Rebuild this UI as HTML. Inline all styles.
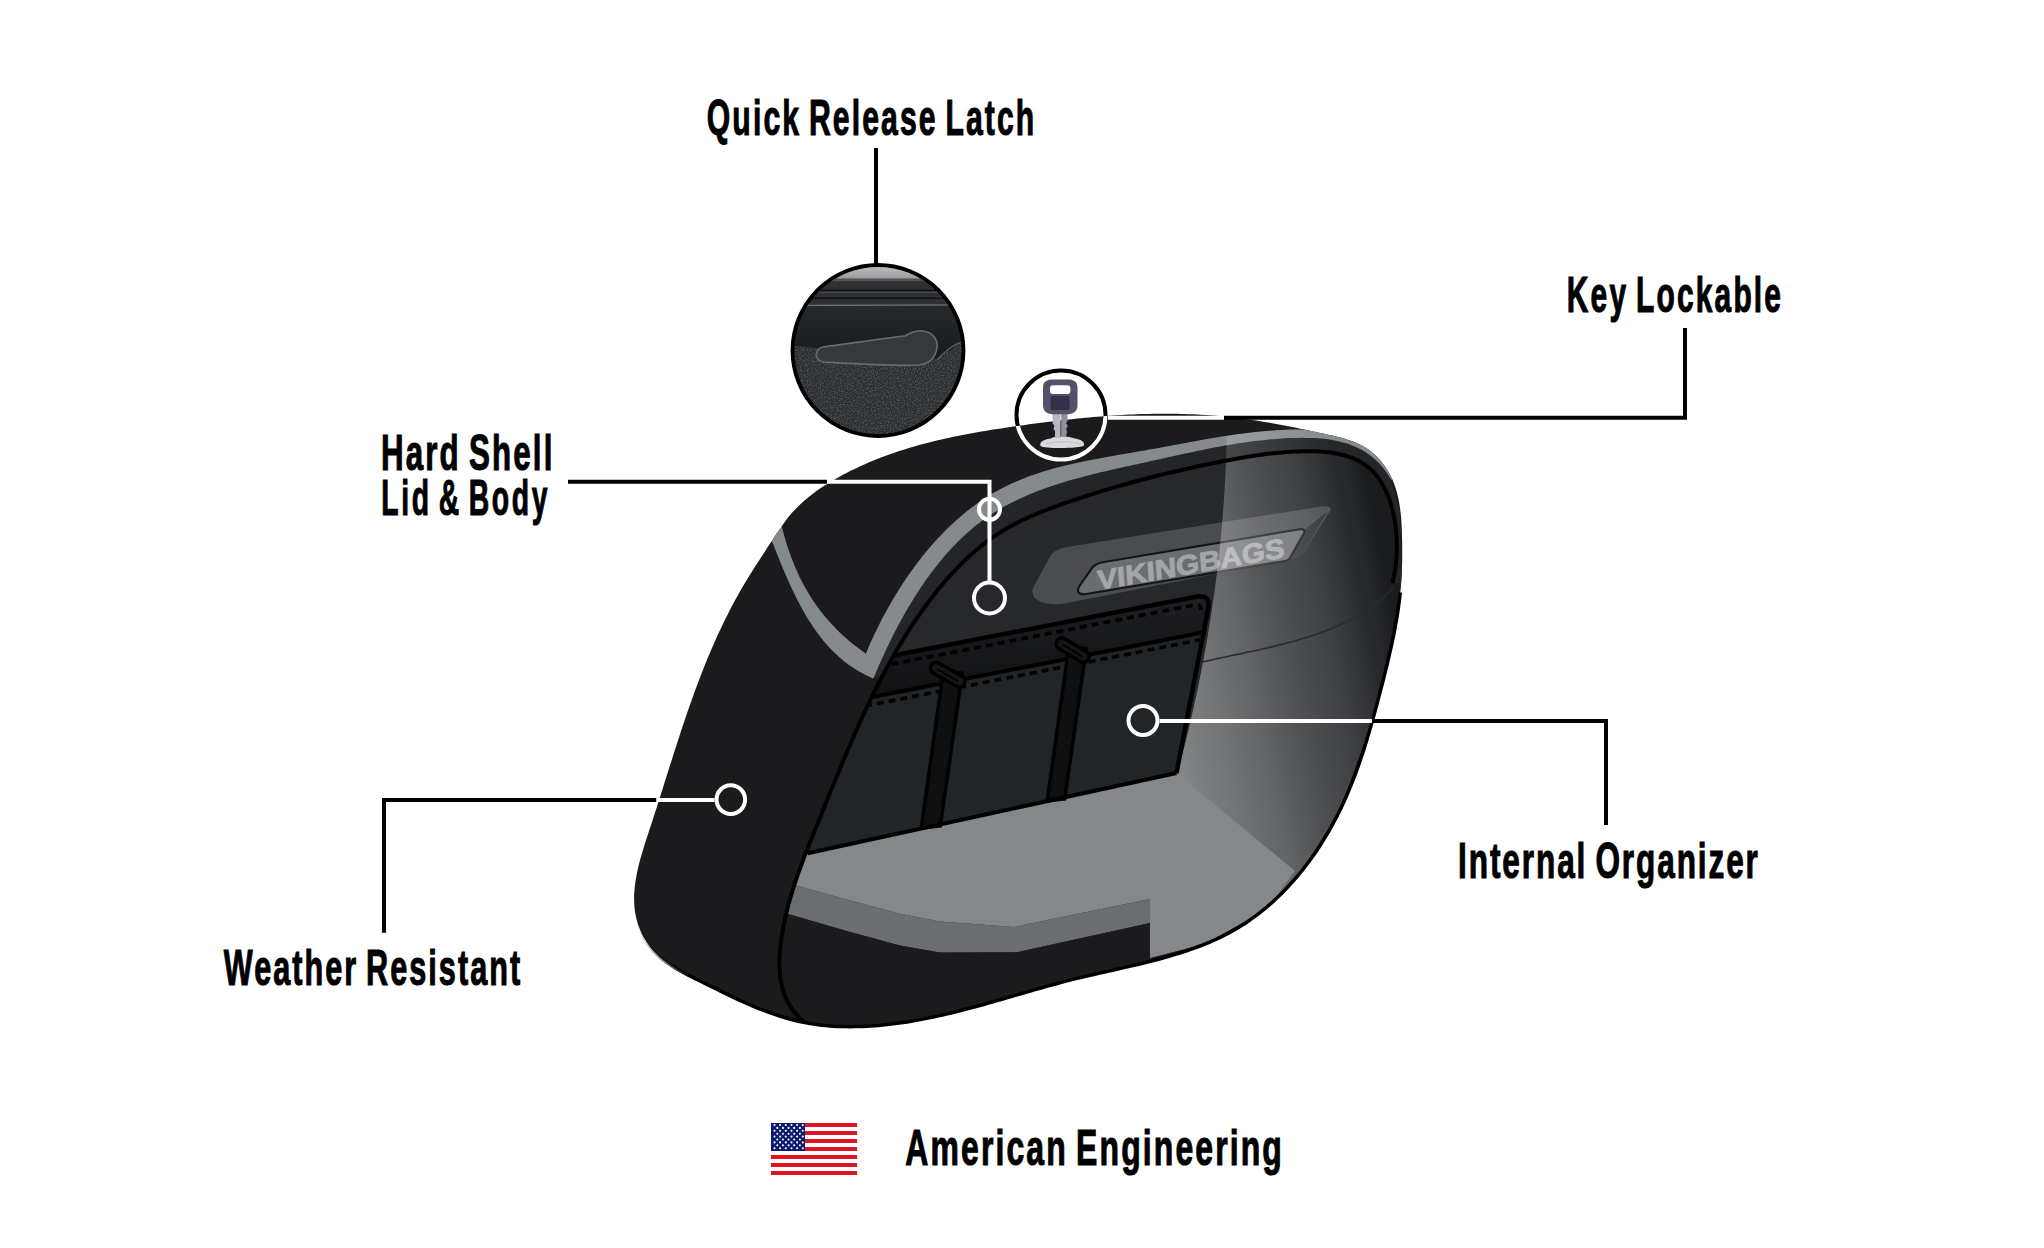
<!DOCTYPE html>
<html><head><meta charset="utf-8"><style>
html,body{margin:0;padding:0;background:#fff;}
body{width:2044px;height:1248px;overflow:hidden;position:relative;}
svg{position:absolute;left:0;top:0;}
</style></head><body>
<svg width="2044" height="1248" viewBox="0 0 2044 1248">

<defs>
  <clipPath id="clipTex"><path d="M790,345.5 L938,359 C950,350 960,342 970,341 L970,450 L790,450 Z"/></clipPath>
  <clipPath id="clipOuter"><path d="M771.8,540.9 L774.0,537.6 L776.2,534.2 L778.4,530.9 L780.7,527.7 L782.9,524.4 L785.3,521.3 L787.6,518.1 L790.1,515.1 L792.7,512.1 L795.3,509.2 L798.1,506.4 L800.9,503.7 L803.9,501.0 L806.9,498.4 L810.0,495.9 L813.2,493.5 L816.4,491.1 L819.7,488.8 L823.1,486.6 L826.5,484.4 L829.9,482.3 L833.4,480.2 L836.8,478.2 L840.3,476.2 L843.9,474.3 L847.4,472.5 L851.0,470.6 L854.6,468.9 L858.2,467.2 L861.8,465.5 L865.5,463.9 L869.1,462.3 L872.8,460.7 L876.5,459.3 L880.2,457.8 L883.9,456.4 L887.7,455.0 L891.5,453.7 L895.2,452.4 L899.0,451.1 L902.8,449.9 L906.7,448.7 L910.5,447.5 L914.3,446.4 L918.2,445.3 L922.1,444.3 L926.0,443.3 L929.9,442.3 L933.8,441.3 L937.7,440.3 L941.6,439.4 L945.5,438.5 L949.5,437.7 L953.4,436.8 L957.4,436.0 L961.3,435.2 L965.3,434.5 L969.3,433.7 L973.2,433.0 L977.2,432.3 L981.2,431.6 L985.2,430.9 L989.2,430.2 L993.2,429.6 L997.2,429.0 L1001.2,428.4 L1005.2,427.7 L1009.2,427.2 L1013.2,426.6 L1017.2,426.0 L1021.2,425.4 L1025.2,424.9 L1029.2,424.3 L1033.2,423.8 L1037.2,423.3 L1041.2,422.7 L1045.2,422.2 L1049.2,421.7 L1053.2,421.2 L1057.2,420.8 L1061.2,420.3 L1065.2,419.8 L1069.2,419.4 L1073.2,419.0 L1077.2,418.6 L1081.2,418.2 L1085.2,417.8 L1089.2,417.4 L1093.2,417.0 L1097.2,416.7 L1101.1,416.4 L1105.1,416.1 L1109.1,415.8 L1113.1,415.5 L1117.1,415.3 L1121.1,415.0 L1125.1,414.8 L1129.1,414.6 L1133.0,414.4 L1137.0,414.3 L1141.0,414.1 L1145.0,414.0 L1149.0,413.9 L1153.0,413.8 L1156.9,413.8 L1160.9,413.7 L1164.9,413.7 L1168.9,413.7 L1172.9,413.8 L1176.9,413.8 L1180.8,413.9 L1184.8,414.0 L1188.8,414.2 L1192.8,414.3 L1196.7,414.5 L1200.7,414.7 L1204.7,414.9 L1208.7,415.2 L1212.7,415.5 L1216.6,415.8 L1220.6,416.2 L1224.6,416.6 L1228.6,417.0 L1232.5,417.4 L1236.5,417.9 L1240.5,418.4 L1244.5,418.9 L1248.5,419.4 L1252.4,420.0 L1256.4,420.6 L1260.4,421.2 L1264.4,421.9 L1268.3,422.6 L1272.3,423.3 L1276.3,424.0 L1280.3,424.7 L1284.3,425.5 L1288.3,426.3 L1292.2,427.0 L1296.2,427.8 L1300.2,428.7 L1304.2,429.5 L1308.2,430.3 L1312.2,431.2 L1316.2,432.0 L1320.2,432.9 L1324.2,433.8 L1328.2,434.7 L1332.2,435.6 L1336.2,436.5 L1340.1,437.5 L1344.0,438.6 L1347.8,439.8 L1351.6,441.1 L1355.2,442.5 L1358.8,444.1 L1362.3,445.8 L1365.6,447.7 L1368.8,449.8 L1371.9,452.2 L1374.8,454.7 L1377.5,457.3 L1380.2,460.2 L1382.6,463.2 L1384.9,466.3 L1387.1,469.6 L1389.1,473.0 L1390.9,476.5 L1392.6,480.1 L1394.1,483.8 L1395.4,487.6 L1396.6,491.4 L1397.6,495.4 L1398.5,499.3 L1399.3,503.3 L1399.9,507.4 L1400.5,511.4 L1400.9,515.5 L1401.3,519.7 L1401.5,523.8 L1401.7,527.9 L1401.9,532.1 L1402.0,536.2 L1402.1,540.3 L1402.2,544.4 L1402.2,548.5 L1402.2,552.6 L1402.2,556.6 L1402.2,560.6 L1402.1,564.7 L1401.9,568.7 L1401.8,572.6 L1401.6,576.6 L1401.3,580.6 L1401.0,584.6 L1400.7,588.6 L1400.3,592.5 L1399.8,596.5 L1399.4,600.4 L1398.8,604.4 L1398.3,608.3 L1397.7,612.2 L1397.1,616.2 L1396.4,620.1 L1395.7,624.0 L1395.0,628.0 L1394.3,631.9 L1393.5,635.8 L1392.7,639.7 L1391.9,643.6 L1391.0,647.5 L1390.1,651.4 L1389.2,655.3 L1388.3,659.2 L1387.4,663.1 L1386.5,667.0 L1385.5,670.9 L1384.5,674.8 L1383.6,678.7 L1382.6,682.6 L1381.6,686.5 L1380.5,690.3 L1379.5,694.2 L1378.5,698.1 L1377.5,702.0 L1376.5,705.9 L1375.4,709.8 L1374.4,713.6 L1373.3,717.5 L1372.2,721.4 L1371.1,725.3 L1370.0,729.1 L1368.9,733.0 L1367.7,736.8 L1366.6,740.7 L1365.4,744.5 L1364.2,748.4 L1363.0,752.2 L1361.7,756.0 L1360.4,759.8 L1359.1,763.6 L1357.8,767.4 L1356.4,771.2 L1355.0,774.9 L1353.6,778.7 L1352.1,782.4 L1350.6,786.2 L1349.1,789.9 L1347.5,793.6 L1345.9,797.3 L1344.3,801.0 L1342.6,804.6 L1340.9,808.3 L1339.1,811.9 L1337.3,815.5 L1335.4,819.1 L1333.5,822.7 L1331.6,826.2 L1329.6,829.8 L1327.6,833.3 L1325.5,836.7 L1323.4,840.2 L1321.3,843.6 L1319.1,847.0 L1316.8,850.4 L1314.6,853.7 L1312.2,857.0 L1309.9,860.3 L1307.5,863.5 L1305.0,866.7 L1302.6,869.9 L1300.0,873.0 L1297.5,876.1 L1294.9,879.2 L1292.2,882.2 L1289.5,885.1 L1286.8,888.1 L1284.1,890.9 L1281.3,893.8 L1278.4,896.5 L1275.5,899.3 L1272.6,902.0 L1269.6,904.6 L1266.6,907.2 L1263.6,909.7 L1260.5,912.2 L1257.4,914.6 L1254.2,916.9 L1251.1,919.2 L1247.8,921.5 L1244.5,923.7 L1241.2,925.8 L1237.9,927.8 L1234.5,929.8 L1231.1,931.8 L1227.6,933.6 L1224.1,935.4 L1220.6,937.2 L1217.0,938.9 L1213.4,940.5 L1209.8,942.1 L1206.1,943.6 L1202.4,945.1 L1198.7,946.5 L1195.0,947.9 L1191.2,949.2 L1187.4,950.6 L1183.6,951.8 L1179.8,953.0 L1175.9,954.2 L1172.1,955.4 L1168.2,956.5 L1164.3,957.6 L1160.4,958.7 L1156.4,959.7 L1152.5,960.8 L1148.5,961.8 L1144.6,962.8 L1140.6,963.7 L1136.6,964.7 L1132.6,965.6 L1128.6,966.5 L1124.7,967.4 L1120.7,968.4 L1116.7,969.3 L1112.7,970.2 L1108.7,971.1 L1104.7,972.0 L1100.7,972.9 L1096.7,973.8 L1092.7,974.7 L1088.7,975.6 L1084.7,976.5 L1080.8,977.5 L1076.8,978.4 L1072.9,979.4 L1069.0,980.4 L1065.1,981.4 L1061.2,982.4 L1057.3,983.5 L1053.4,984.5 L1049.5,985.6 L1045.7,986.6 L1041.8,987.7 L1038.0,988.8 L1034.1,989.9 L1030.3,991.0 L1026.5,992.1 L1022.6,993.2 L1018.8,994.3 L1015.0,995.4 L1011.2,996.5 L1007.4,997.6 L1003.6,998.7 L999.8,999.8 L996.0,1000.9 L992.1,1002.0 L988.3,1003.1 L984.5,1004.2 L980.7,1005.2 L976.9,1006.3 L973.1,1007.3 L969.2,1008.3 L965.4,1009.3 L961.6,1010.3 L957.7,1011.3 L953.9,1012.3 L950.0,1013.2 L946.2,1014.1 L942.3,1015.0 L938.4,1015.9 L934.5,1016.7 L930.6,1017.6 L926.7,1018.4 L922.8,1019.1 L918.9,1019.9 L914.9,1020.6 L910.9,1021.2 L907.0,1021.9 L903.0,1022.5 L899.0,1023.1 L894.9,1023.6 L890.9,1024.1 L886.8,1024.6 L882.8,1025.0 L878.7,1025.4 L874.6,1025.7 L870.6,1026.0 L866.5,1026.2 L862.4,1026.4 L858.3,1026.6 L854.2,1026.6 L850.1,1026.7 L846.1,1026.6 L842.0,1026.6 L838.0,1026.4 L833.9,1026.2 L829.9,1025.9 L825.9,1025.6 L821.9,1025.2 L817.9,1024.7 L813.9,1024.1 L810.0,1023.5 L806.1,1022.8 L802.2,1022.0 L798.3,1021.2 L794.5,1020.3 L790.7,1019.3 L786.9,1018.2 L783.1,1017.1 L779.4,1016.0 L775.6,1014.7 L771.9,1013.4 L768.2,1012.1 L764.5,1010.7 L760.8,1009.3 L757.1,1007.8 L753.4,1006.3 L749.7,1004.7 L746.1,1003.1 L742.4,1001.5 L738.8,999.8 L735.1,998.1 L731.5,996.4 L727.8,994.6 L724.2,992.9 L720.5,991.1 L716.8,989.3 L713.2,987.5 L709.5,985.7 L705.8,983.9 L702.1,982.0 L698.4,980.2 L694.7,978.4 L690.9,976.5 L687.3,974.6 L683.6,972.7 L680.0,970.7 L676.4,968.7 L672.9,966.6 L669.5,964.4 L666.2,962.1 L663.0,959.7 L660.0,957.2 L657.1,954.6 L654.3,951.8 L651.7,948.9 L649.2,945.8 L647.0,942.6 L644.9,939.3 L642.9,935.9 L641.2,932.4 L639.7,928.8 L638.3,925.2 L637.1,921.5 L636.2,917.8 L635.4,914.0 L634.8,910.3 L634.4,906.5 L634.2,902.7 L634.1,898.9 L634.1,895.0 L634.4,891.2 L634.7,887.3 L635.2,883.4 L635.8,879.5 L636.5,875.6 L637.2,871.7 L638.1,867.7 L639.1,863.8 L640.1,859.8 L641.2,855.9 L642.4,851.9 L643.6,848.0 L644.8,844.0 L646.1,840.0 L647.4,836.1 L648.7,832.1 L650.0,828.1 L651.3,824.2 L652.6,820.2 L653.8,816.3 L655.1,812.4 L656.4,808.4 L657.6,804.5 L658.9,800.6 L660.1,796.7 L661.4,792.8 L662.6,788.9 L663.8,785.0 L665.0,781.1 L666.3,777.2 L667.5,773.3 L668.7,769.5 L669.9,765.6 L671.2,761.7 L672.4,757.9 L673.6,754.1 L674.8,750.2 L676.1,746.4 L677.3,742.6 L678.6,738.7 L679.8,734.9 L681.0,731.1 L682.3,727.3 L683.6,723.5 L684.8,719.8 L686.1,716.0 L687.4,712.2 L688.7,708.5 L690.0,704.7 L691.4,701.0 L692.7,697.2 L694.0,693.5 L695.4,689.8 L696.8,686.0 L698.2,682.3 L699.6,678.6 L701.0,674.9 L702.4,671.3 L703.9,667.6 L705.3,663.9 L706.8,660.2 L708.3,656.6 L709.9,652.9 L711.4,649.3 L713.0,645.7 L714.6,642.1 L716.2,638.4 L717.8,634.8 L719.5,631.2 L721.2,627.7 L722.9,624.1 L724.6,620.5 L726.4,616.9 L728.2,613.4 L730.0,609.8 L731.8,606.3 L733.7,602.8 L735.6,599.3 L737.6,595.8 L739.5,592.3 L741.5,588.8 L743.6,585.3 L745.6,581.8 L747.7,578.4 L749.8,574.9 L752.0,571.5 L754.2,568.0 L756.4,564.6 L758.6,561.2 L760.8,557.8 L763.0,554.4 L765.2,551.0 L767.4,547.6 L769.6,544.3 L771.8,540.9Z"/></clipPath>
  <clipPath id="clipOpen"><path d="M1392.5,583.2 L1393.3,579.5 L1394.1,575.8 L1394.8,571.9 L1395.3,568.0 L1395.8,564.0 L1396.2,559.9 L1396.5,555.7 L1396.7,551.6 L1396.8,547.3 L1396.7,543.1 L1396.6,538.8 L1396.4,534.5 L1396.0,530.3 L1395.5,526.0 L1394.9,521.8 L1394.2,517.6 L1393.4,513.5 L1392.4,509.4 L1391.3,505.4 L1390.1,501.5 L1388.8,497.7 L1387.3,493.9 L1385.7,490.3 L1383.9,486.8 L1382.0,483.4 L1380.0,480.2 L1377.8,477.1 L1375.4,474.2 L1372.9,471.5 L1370.3,468.9 L1367.5,466.5 L1364.5,464.4 L1361.4,462.4 L1358.2,460.6 L1354.8,459.0 L1351.3,457.6 L1347.7,456.4 L1344.0,455.3 L1340.2,454.3 L1336.3,453.5 L1332.4,452.8 L1328.4,452.3 L1324.3,451.9 L1320.1,451.6 L1316.0,451.3 L1311.8,451.2 L1307.6,451.2 L1303.3,451.2 L1299.1,451.4 L1294.9,451.5 L1290.7,451.8 L1286.5,452.0 L1282.3,452.4 L1278.2,452.8 L1274.0,453.2 L1269.9,453.6 L1265.8,454.1 L1261.7,454.7 L1257.7,455.2 L1253.6,455.8 L1249.6,456.5 L1245.5,457.1 L1241.5,457.8 L1237.5,458.5 L1233.5,459.2 L1229.6,460.0 L1225.6,460.7 L1221.6,461.5 L1217.7,462.3 L1213.7,463.1 L1209.8,463.9 L1205.8,464.7 L1201.9,465.5 L1198.0,466.3 L1194.1,467.2 L1190.2,468.0 L1186.3,468.9 L1182.4,469.8 L1178.5,470.7 L1174.6,471.6 L1170.7,472.5 L1166.9,473.4 L1163.0,474.4 L1159.1,475.3 L1155.3,476.3 L1151.4,477.2 L1147.6,478.2 L1143.7,479.2 L1139.9,480.3 L1136.0,481.3 L1132.2,482.3 L1128.3,483.4 L1124.5,484.5 L1120.6,485.5 L1116.8,486.6 L1113.0,487.8 L1109.1,488.9 L1105.3,490.0 L1101.5,491.2 L1097.6,492.4 L1093.8,493.6 L1090.0,494.8 L1086.1,496.0 L1082.3,497.3 L1078.5,498.5 L1074.6,499.8 L1070.8,501.1 L1066.9,502.4 L1063.1,503.7 L1059.3,505.1 L1055.4,506.5 L1051.6,507.9 L1047.8,509.3 L1044.0,510.8 L1040.2,512.3 L1036.5,513.9 L1032.7,515.5 L1029.0,517.1 L1025.3,518.8 L1021.7,520.5 L1018.1,522.3 L1014.5,524.2 L1010.9,526.1 L1007.4,528.0 L1004.0,530.1 L1000.5,532.2 L997.2,534.3 L993.8,536.6 L990.5,538.9 L987.3,541.2 L984.1,543.6 L981.0,546.1 L977.9,548.7 L974.8,551.3 L971.8,553.9 L968.8,556.6 L965.9,559.3 L963.0,562.1 L960.1,565.0 L957.3,567.8 L954.5,570.8 L951.8,573.7 L949.1,576.7 L946.4,579.7 L943.8,582.8 L941.2,585.9 L938.6,589.0 L936.1,592.2 L933.6,595.3 L931.1,598.5 L928.7,601.7 L926.3,605.0 L923.9,608.2 L921.6,611.5 L919.3,614.8 L917.0,618.1 L914.8,621.4 L912.5,624.7 L910.3,628.1 L908.2,631.4 L906.0,634.8 L903.9,638.2 L901.8,641.6 L899.7,645.1 L897.7,648.5 L895.7,651.9 L893.7,655.4 L891.7,658.9 L889.8,662.4 L887.8,665.9 L885.9,669.4 L884.0,673.0 L882.2,676.5 L880.3,680.1 L878.5,683.6 L876.7,687.2 L874.9,690.8 L873.1,694.4 L871.3,698.0 L869.6,701.6 L867.8,705.2 L866.1,708.9 L864.4,712.5 L862.7,716.2 L861.1,719.8 L859.4,723.5 L857.7,727.2 L856.1,730.9 L854.5,734.5 L852.9,738.2 L851.3,741.9 L849.7,745.6 L848.1,749.3 L846.5,753.1 L844.9,756.8 L843.4,760.5 L841.8,764.2 L840.2,768.0 L838.7,771.7 L837.2,775.4 L835.6,779.2 L834.1,782.9 L832.6,786.7 L831.0,790.4 L829.5,794.2 L828.0,797.9 L826.5,801.7 L824.9,805.4 L823.4,809.2 L821.9,812.9 L820.4,816.7 L818.9,820.4 L817.3,824.2 L815.8,827.9 L814.3,831.6 L812.8,835.4 L811.3,839.1 L809.8,842.9 L808.3,846.7 L806.8,850.4 L805.3,854.2 L803.9,857.9 L802.5,861.7 L801.1,865.5 L799.7,869.3 L798.3,873.0 L797.0,876.8 L795.7,880.6 L794.5,884.4 L793.2,888.3 L792.1,892.1 L790.9,895.9 L789.8,899.8 L788.7,903.6 L787.7,907.5 L786.7,911.4 L785.8,915.3 L784.9,919.2 L784.1,923.1 L783.3,927.1 L782.6,931.0 L781.9,935.0 L781.3,939.0 L780.8,943.0 L780.3,947.0 L780.0,951.0 L779.7,955.0 L779.5,959.1 L779.4,963.1 L779.5,967.1 L779.7,971.0 L780.0,975.0 L780.5,978.9 L781.2,982.7 L782.0,986.5 L783.1,990.3 L784.3,994.0 L785.8,997.7 L787.4,1001.2 L789.3,1004.7 L791.5,1008.1 L793.8,1011.5 L796.5,1014.7 L799.4,1017.8 L802.6,1020.8 L806.1,1023.8 L1000.0,1001.4 L1151.0,958.0 L1205.0,944.0 L1266.0,910.0 L1308.0,862.0 L1342.0,806.0 L1372.0,720.0 L1390.0,655.0 L1401.0,583.0Z"/></clipPath>
  <clipPath id="clipPanel"><path d="M1226.8,430.0 L1226.8,434.0 L1226.7,438.1 L1226.6,442.2 L1226.5,446.3 L1226.4,450.4 L1226.2,454.4 L1226.1,458.5 L1225.9,462.6 L1225.8,466.7 L1225.6,470.7 L1225.4,474.8 L1225.2,478.9 L1225.0,483.0 L1224.7,487.0 L1224.5,491.1 L1224.2,495.2 L1224.0,499.2 L1223.7,503.3 L1223.4,507.4 L1223.1,511.4 L1222.7,515.5 L1222.4,519.6 L1222.1,523.6 L1221.7,527.7 L1221.3,531.7 L1221.0,535.8 L1220.6,539.8 L1220.2,543.9 L1219.8,547.9 L1219.3,552.0 L1218.9,556.0 L1218.4,560.1 L1218.0,564.1 L1217.5,568.2 L1217.0,572.2 L1216.5,576.3 L1216.0,580.3 L1215.5,584.3 L1214.9,588.4 L1214.4,592.4 L1213.8,596.4 L1213.2,600.5 L1212.6,604.5 L1212.1,608.5 L1211.4,612.6 L1210.8,616.6 L1210.2,620.6 L1209.5,624.6 L1208.9,628.6 L1208.2,632.7 L1207.5,636.7 L1206.9,640.7 L1206.2,644.7 L1205.4,648.7 L1204.7,652.7 L1204.0,656.7 L1203.2,660.7 L1202.5,664.7 L1201.7,668.7 L1200.9,672.7 L1200.1,676.7 L1199.3,680.7 L1198.5,684.7 L1197.7,688.7 L1196.8,692.7 L1196.0,696.7 L1195.1,700.7 L1194.2,704.6 L1193.4,708.6 L1192.5,712.6 L1191.6,716.6 L1190.6,720.5 L1189.7,724.5 L1188.8,728.5 L1187.8,732.4 L1186.9,736.4 L1185.9,740.4 L1184.9,744.3 L1183.9,748.3 L1182.9,752.2 L1181.9,756.2 L1180.8,760.1 L1179.8,764.1 L1178.7,768.0 L1177.7,771.9 L1178.0,1100.0 L1430.0,1100.0 L1430.0,400.0Z"/></clipPath>
  <linearGradient id="gOv" x1="1140" y1="0" x2="1390" y2="0" gradientUnits="userSpaceOnUse" gradientTransform="matrix(1,0,0.2,1,-120,0)">
    <stop offset="0" stop-color="#fff" stop-opacity="0.44"/>
    <stop offset="0.2" stop-color="#fff" stop-opacity="0.36"/>
    <stop offset="0.4" stop-color="#fff" stop-opacity="0.27"/>
    <stop offset="0.52" stop-color="#fff" stop-opacity="0.2"/>
    <stop offset="0.64" stop-color="#fff" stop-opacity="0.15"/>
    <stop offset="0.74" stop-color="#fff" stop-opacity="0.11"/>
    <stop offset="0.86" stop-color="#fff" stop-opacity="0.03"/>
    <stop offset="0.92" stop-color="#000" stop-opacity="0"/>
    <stop offset="1" stop-color="#000" stop-opacity="0.3"/>
  </linearGradient>
  <linearGradient id="gOv2" x1="1140" y1="0" x2="1390" y2="0" gradientUnits="userSpaceOnUse" gradientTransform="matrix(1,0,0.2,1,-120,0)">
    <stop offset="0" stop-color="#fff" stop-opacity="0.3"/>
    <stop offset="0.4" stop-color="#fff" stop-opacity="0.18"/>
    <stop offset="0.64" stop-color="#fff" stop-opacity="0.1"/>
    <stop offset="0.86" stop-color="#fff" stop-opacity="0.02"/>
    <stop offset="1" stop-color="#fff" stop-opacity="0"/>
  </linearGradient>
  <linearGradient id="gStroke" x1="636" y1="0" x2="690" y2="0" gradientUnits="userSpaceOnUse"><stop offset="0" stop-color="#000" stop-opacity="0"/><stop offset="1" stop-color="#000" stop-opacity="1"/></linearGradient>
  <linearGradient id="gBand" x1="0" y1="600" x2="0" y2="700" gradientUnits="userSpaceOnUse">
    <stop offset="0" stop-color="#1d1e21"/><stop offset="1" stop-color="#101113"/>
  </linearGradient>
</defs>
<path d="M771.8,540.9 L774.0,537.6 L776.2,534.2 L778.4,530.9 L780.7,527.7 L782.9,524.4 L785.3,521.3 L787.6,518.1 L790.1,515.1 L792.7,512.1 L795.3,509.2 L798.1,506.4 L800.9,503.7 L803.9,501.0 L806.9,498.4 L810.0,495.9 L813.2,493.5 L816.4,491.1 L819.7,488.8 L823.1,486.6 L826.5,484.4 L829.9,482.3 L833.4,480.2 L836.8,478.2 L840.3,476.2 L843.9,474.3 L847.4,472.5 L851.0,470.6 L854.6,468.9 L858.2,467.2 L861.8,465.5 L865.5,463.9 L869.1,462.3 L872.8,460.7 L876.5,459.3 L880.2,457.8 L883.9,456.4 L887.7,455.0 L891.5,453.7 L895.2,452.4 L899.0,451.1 L902.8,449.9 L906.7,448.7 L910.5,447.5 L914.3,446.4 L918.2,445.3 L922.1,444.3 L926.0,443.3 L929.9,442.3 L933.8,441.3 L937.7,440.3 L941.6,439.4 L945.5,438.5 L949.5,437.7 L953.4,436.8 L957.4,436.0 L961.3,435.2 L965.3,434.5 L969.3,433.7 L973.2,433.0 L977.2,432.3 L981.2,431.6 L985.2,430.9 L989.2,430.2 L993.2,429.6 L997.2,429.0 L1001.2,428.4 L1005.2,427.7 L1009.2,427.2 L1013.2,426.6 L1017.2,426.0 L1021.2,425.4 L1025.2,424.9 L1029.2,424.3 L1033.2,423.8 L1037.2,423.3 L1041.2,422.7 L1045.2,422.2 L1049.2,421.7 L1053.2,421.2 L1057.2,420.8 L1061.2,420.3 L1065.2,419.8 L1069.2,419.4 L1073.2,419.0 L1077.2,418.6 L1081.2,418.2 L1085.2,417.8 L1089.2,417.4 L1093.2,417.0 L1097.2,416.7 L1101.1,416.4 L1105.1,416.1 L1109.1,415.8 L1113.1,415.5 L1117.1,415.3 L1121.1,415.0 L1125.1,414.8 L1129.1,414.6 L1133.0,414.4 L1137.0,414.3 L1141.0,414.1 L1145.0,414.0 L1149.0,413.9 L1153.0,413.8 L1156.9,413.8 L1160.9,413.7 L1164.9,413.7 L1168.9,413.7 L1172.9,413.8 L1176.9,413.8 L1180.8,413.9 L1184.8,414.0 L1188.8,414.2 L1192.8,414.3 L1196.7,414.5 L1200.7,414.7 L1204.7,414.9 L1208.7,415.2 L1212.7,415.5 L1216.6,415.8 L1220.6,416.2 L1224.6,416.6 L1228.6,417.0 L1232.5,417.4 L1236.5,417.9 L1240.5,418.4 L1244.5,418.9 L1248.5,419.4 L1252.4,420.0 L1256.4,420.6 L1260.4,421.2 L1264.4,421.9 L1268.3,422.6 L1272.3,423.3 L1276.3,424.0 L1280.3,424.7 L1284.3,425.5 L1288.3,426.3 L1292.2,427.0 L1296.2,427.8 L1300.2,428.7 L1304.2,429.5 L1308.2,430.3 L1312.2,431.2 L1316.2,432.0 L1320.2,432.9 L1324.2,433.8 L1328.2,434.7 L1332.2,435.6 L1336.2,436.5 L1340.1,437.5 L1344.0,438.6 L1347.8,439.8 L1351.6,441.1 L1355.2,442.5 L1358.8,444.1 L1362.3,445.8 L1365.6,447.7 L1368.8,449.8 L1371.9,452.2 L1374.8,454.7 L1377.5,457.3 L1380.2,460.2 L1382.6,463.2 L1384.9,466.3 L1387.1,469.6 L1389.1,473.0 L1390.9,476.5 L1392.6,480.1 L1394.1,483.8 L1395.4,487.6 L1396.6,491.4 L1397.6,495.4 L1398.5,499.3 L1399.3,503.3 L1399.9,507.4 L1400.5,511.4 L1400.9,515.5 L1401.3,519.7 L1401.5,523.8 L1401.7,527.9 L1401.9,532.1 L1402.0,536.2 L1402.1,540.3 L1402.2,544.4 L1402.2,548.5 L1402.2,552.6 L1402.2,556.6 L1402.2,560.6 L1402.1,564.7 L1401.9,568.7 L1401.8,572.6 L1401.6,576.6 L1401.3,580.6 L1401.0,584.6 L1400.7,588.6 L1400.3,592.5 L1399.8,596.5 L1399.4,600.4 L1398.8,604.4 L1398.3,608.3 L1397.7,612.2 L1397.1,616.2 L1396.4,620.1 L1395.7,624.0 L1395.0,628.0 L1394.3,631.9 L1393.5,635.8 L1392.7,639.7 L1391.9,643.6 L1391.0,647.5 L1390.1,651.4 L1389.2,655.3 L1388.3,659.2 L1387.4,663.1 L1386.5,667.0 L1385.5,670.9 L1384.5,674.8 L1383.6,678.7 L1382.6,682.6 L1381.6,686.5 L1380.5,690.3 L1379.5,694.2 L1378.5,698.1 L1377.5,702.0 L1376.5,705.9 L1375.4,709.8 L1374.4,713.6 L1373.3,717.5 L1372.2,721.4 L1371.1,725.3 L1370.0,729.1 L1368.9,733.0 L1367.7,736.8 L1366.6,740.7 L1365.4,744.5 L1364.2,748.4 L1363.0,752.2 L1361.7,756.0 L1360.4,759.8 L1359.1,763.6 L1357.8,767.4 L1356.4,771.2 L1355.0,774.9 L1353.6,778.7 L1352.1,782.4 L1350.6,786.2 L1349.1,789.9 L1347.5,793.6 L1345.9,797.3 L1344.3,801.0 L1342.6,804.6 L1340.9,808.3 L1339.1,811.9 L1337.3,815.5 L1335.4,819.1 L1333.5,822.7 L1331.6,826.2 L1329.6,829.8 L1327.6,833.3 L1325.5,836.7 L1323.4,840.2 L1321.3,843.6 L1319.1,847.0 L1316.8,850.4 L1314.6,853.7 L1312.2,857.0 L1309.9,860.3 L1307.5,863.5 L1305.0,866.7 L1302.6,869.9 L1300.0,873.0 L1297.5,876.1 L1294.9,879.2 L1292.2,882.2 L1289.5,885.1 L1286.8,888.1 L1284.1,890.9 L1281.3,893.8 L1278.4,896.5 L1275.5,899.3 L1272.6,902.0 L1269.6,904.6 L1266.6,907.2 L1263.6,909.7 L1260.5,912.2 L1257.4,914.6 L1254.2,916.9 L1251.1,919.2 L1247.8,921.5 L1244.5,923.7 L1241.2,925.8 L1237.9,927.8 L1234.5,929.8 L1231.1,931.8 L1227.6,933.6 L1224.1,935.4 L1220.6,937.2 L1217.0,938.9 L1213.4,940.5 L1209.8,942.1 L1206.1,943.6 L1202.4,945.1 L1198.7,946.5 L1195.0,947.9 L1191.2,949.2 L1187.4,950.6 L1183.6,951.8 L1179.8,953.0 L1175.9,954.2 L1172.1,955.4 L1168.2,956.5 L1164.3,957.6 L1160.4,958.7 L1156.4,959.7 L1152.5,960.8 L1148.5,961.8 L1144.6,962.8 L1140.6,963.7 L1136.6,964.7 L1132.6,965.6 L1128.6,966.5 L1124.7,967.4 L1120.7,968.4 L1116.7,969.3 L1112.7,970.2 L1108.7,971.1 L1104.7,972.0 L1100.7,972.9 L1096.7,973.8 L1092.7,974.7 L1088.7,975.6 L1084.7,976.5 L1080.8,977.5 L1076.8,978.4 L1072.9,979.4 L1069.0,980.4 L1065.1,981.4 L1061.2,982.4 L1057.3,983.5 L1053.4,984.5 L1049.5,985.6 L1045.7,986.6 L1041.8,987.7 L1038.0,988.8 L1034.1,989.9 L1030.3,991.0 L1026.5,992.1 L1022.6,993.2 L1018.8,994.3 L1015.0,995.4 L1011.2,996.5 L1007.4,997.6 L1003.6,998.7 L999.8,999.8 L996.0,1000.9 L992.1,1002.0 L988.3,1003.1 L984.5,1004.2 L980.7,1005.2 L976.9,1006.3 L973.1,1007.3 L969.2,1008.3 L965.4,1009.3 L961.6,1010.3 L957.7,1011.3 L953.9,1012.3 L950.0,1013.2 L946.2,1014.1 L942.3,1015.0 L938.4,1015.9 L934.5,1016.7 L930.6,1017.6 L926.7,1018.4 L922.8,1019.1 L918.9,1019.9 L914.9,1020.6 L910.9,1021.2 L907.0,1021.9 L903.0,1022.5 L899.0,1023.1 L894.9,1023.6 L890.9,1024.1 L886.8,1024.6 L882.8,1025.0 L878.7,1025.4 L874.6,1025.7 L870.6,1026.0 L866.5,1026.2 L862.4,1026.4 L858.3,1026.6 L854.2,1026.6 L850.1,1026.7 L846.1,1026.6 L842.0,1026.6 L838.0,1026.4 L833.9,1026.2 L829.9,1025.9 L825.9,1025.6 L821.9,1025.2 L817.9,1024.7 L813.9,1024.1 L810.0,1023.5 L806.1,1022.8 L802.2,1022.0 L798.3,1021.2 L794.5,1020.3 L790.7,1019.3 L786.9,1018.2 L783.1,1017.1 L779.4,1016.0 L775.6,1014.7 L771.9,1013.4 L768.2,1012.1 L764.5,1010.7 L760.8,1009.3 L757.1,1007.8 L753.4,1006.3 L749.7,1004.7 L746.1,1003.1 L742.4,1001.5 L738.8,999.8 L735.1,998.1 L731.5,996.4 L727.8,994.6 L724.2,992.9 L720.5,991.1 L716.8,989.3 L713.2,987.5 L709.5,985.7 L705.8,983.9 L702.1,982.0 L698.4,980.2 L694.7,978.4 L690.9,976.5 L687.3,974.6 L683.6,972.7 L680.0,970.7 L676.4,968.7 L672.9,966.6 L669.5,964.4 L666.2,962.1 L663.0,959.7 L660.0,957.2 L657.1,954.6 L654.3,951.8 L651.7,948.9 L649.2,945.8 L647.0,942.6 L644.9,939.3 L642.9,935.9 L641.2,932.4 L639.7,928.8 L638.3,925.2 L637.1,921.5 L636.2,917.8 L635.4,914.0 L634.8,910.3 L634.4,906.5 L634.2,902.7 L634.1,898.9 L634.1,895.0 L634.4,891.2 L634.7,887.3 L635.2,883.4 L635.8,879.5 L636.5,875.6 L637.2,871.7 L638.1,867.7 L639.1,863.8 L640.1,859.8 L641.2,855.9 L642.4,851.9 L643.6,848.0 L644.8,844.0 L646.1,840.0 L647.4,836.1 L648.7,832.1 L650.0,828.1 L651.3,824.2 L652.6,820.2 L653.8,816.3 L655.1,812.4 L656.4,808.4 L657.6,804.5 L658.9,800.6 L660.1,796.7 L661.4,792.8 L662.6,788.9 L663.8,785.0 L665.0,781.1 L666.3,777.2 L667.5,773.3 L668.7,769.5 L669.9,765.6 L671.2,761.7 L672.4,757.9 L673.6,754.1 L674.8,750.2 L676.1,746.4 L677.3,742.6 L678.6,738.7 L679.8,734.9 L681.0,731.1 L682.3,727.3 L683.6,723.5 L684.8,719.8 L686.1,716.0 L687.4,712.2 L688.7,708.5 L690.0,704.7 L691.4,701.0 L692.7,697.2 L694.0,693.5 L695.4,689.8 L696.8,686.0 L698.2,682.3 L699.6,678.6 L701.0,674.9 L702.4,671.3 L703.9,667.6 L705.3,663.9 L706.8,660.2 L708.3,656.6 L709.9,652.9 L711.4,649.3 L713.0,645.7 L714.6,642.1 L716.2,638.4 L717.8,634.8 L719.5,631.2 L721.2,627.7 L722.9,624.1 L724.6,620.5 L726.4,616.9 L728.2,613.4 L730.0,609.8 L731.8,606.3 L733.7,602.8 L735.6,599.3 L737.6,595.8 L739.5,592.3 L741.5,588.8 L743.6,585.3 L745.6,581.8 L747.7,578.4 L749.8,574.9 L752.0,571.5 L754.2,568.0 L756.4,564.6 L758.6,561.2 L760.8,557.8 L763.0,554.4 L765.2,551.0 L767.4,547.6 L769.6,544.3 L771.8,540.9Z" fill="#1b1b1d"/>
<g clip-path="url(#clipOuter)">
  <path d="M873.8,677.8 L875.2,674.2 L876.7,670.7 L878.3,667.1 L879.8,663.6 L881.4,660.0 L883.1,656.4 L884.7,652.8 L886.4,649.1 L888.1,645.5 L889.9,641.9 L891.7,638.3 L893.5,634.6 L895.3,631.0 L897.2,627.4 L899.1,623.8 L901.1,620.2 L903.1,616.6 L905.1,613.0 L907.1,609.5 L909.2,605.9 L911.3,602.4 L913.5,598.9 L915.7,595.4 L917.9,591.9 L920.2,588.5 L922.5,585.0 L924.8,581.7 L927.2,578.3 L929.6,575.0 L932.0,571.7 L934.5,568.4 L937.1,565.2 L939.6,562.0 L942.2,558.9 L944.8,555.8 L947.5,552.7 L950.2,549.7 L953.0,546.8 L955.8,543.9 L958.6,541.0 L961.5,538.2 L964.4,535.5 L967.4,532.8 L970.4,530.2 L973.4,527.6 L976.5,525.1 L979.6,522.7 L982.8,520.3 L986.0,518.0 L989.2,515.8 L992.5,513.6 L995.9,511.5 L999.2,509.5 L1002.6,507.5 L1006.1,505.6 L1009.5,503.8 L1013.1,502.0 L1016.6,500.2 L1020.2,498.5 L1023.8,496.9 L1027.4,495.3 L1031.1,493.8 L1034.8,492.3 L1038.5,490.8 L1042.3,489.4 L1046.0,488.1 L1049.8,486.7 L1053.6,485.4 L1057.5,484.2 L1061.3,483.0 L1065.2,481.8 L1069.1,480.6 L1073.0,479.5 L1077.0,478.4 L1080.9,477.4 L1084.9,476.3 L1088.8,475.3 L1092.8,474.3 L1096.8,473.3 L1100.8,472.3 L1104.8,471.4 L1108.8,470.5 L1112.8,469.5 L1116.9,468.6 L1120.9,467.7 L1124.9,466.8 L1129.0,465.9 L1133.0,465.1 L1137.0,464.2 L1141.1,463.3 L1145.1,462.4 L1149.1,461.5 L1153.2,460.6 L1157.2,459.7 L1161.2,458.8 L1165.2,457.9 L1169.2,457.1 L1173.2,456.2 L1177.2,455.3 L1181.2,454.4 L1185.2,453.6 L1189.2,452.7 L1193.2,451.9 L1197.2,451.0 L1201.2,450.2 L1205.2,449.4 L1209.2,448.6 L1213.2,447.8 L1217.2,447.1 L1221.2,446.3 L1225.2,445.6 L1229.2,444.9 L1233.2,444.3 L1237.2,443.6 L1241.2,443.0 L1245.2,442.4 L1249.2,441.8 L1253.2,441.3 L1257.2,440.8 L1261.2,440.4 L1265.2,439.9 L1269.2,439.5 L1273.2,439.2 L1277.3,438.9 L1281.3,438.6 L1285.3,438.3 L1289.4,438.1 L1293.4,438.0 L1297.5,437.9 L1301.5,437.8 L1305.5,437.9 L1309.6,437.9 L1313.6,438.1 L1317.6,438.3 L1321.6,438.6 L1325.5,439.1 L1329.4,439.6 L1333.3,440.2 L1337.2,441.0 L1340.9,441.9 L1344.7,442.9 L1348.4,444.1 L1352.0,445.4 L1355.5,446.9 L1359.0,448.5 L1362.4,450.3 L1365.7,452.3 L1368.9,454.5 L1372.1,456.9 L1375.1,459.5 L1378.1,462.3 L1380.9,465.3 L1383.6,468.5 L1386.2,472.0 L1388.7,475.7 L1391.1,479.7 L1400.0,512.0 L1402.0,583.0 L1393.0,583.0 L871.3,698.0 L873.1,694.4 L874.9,690.8 L876.7,687.2 L878.5,683.6 L880.3,680.1 L882.2,676.5 L884.0,673.0 L885.9,669.4 L887.8,665.9 L889.8,662.4 L891.7,658.9 L893.7,655.4 L895.7,651.9 L897.7,648.5 L899.7,645.1 L901.8,641.6 L903.9,638.2 L906.0,634.8 L908.2,631.4 L910.3,628.1 L912.5,624.7 L914.8,621.4 L917.0,618.1 L919.3,614.8 L921.6,611.5 L923.9,608.2 L926.3,605.0 L928.7,601.7 L931.1,598.5 L933.6,595.3 L936.1,592.2 L938.6,589.0 L941.2,585.9 L943.8,582.8 L946.4,579.7 L949.1,576.7 L951.8,573.7 L954.5,570.8 L957.3,567.8 L960.1,565.0 L963.0,562.1 L965.9,559.3 L968.8,556.6 L971.8,553.9 L974.8,551.3 L977.9,548.7 L981.0,546.1 L984.1,543.6 L987.3,541.2 L990.5,538.9 L993.8,536.6 L997.2,534.3 L1000.5,532.2 L1004.0,530.1 L1007.4,528.0 L1010.9,526.1 L1014.5,524.2 L1018.1,522.3 L1021.7,520.5 L1025.3,518.8 L1029.0,517.1 L1032.7,515.5 L1036.5,513.9 L1040.2,512.3 L1044.0,510.8 L1047.8,509.3 L1051.6,507.9 L1055.4,506.5 L1059.3,505.1 L1063.1,503.7 L1066.9,502.4 L1070.8,501.1 L1074.6,499.8 L1078.5,498.5 L1082.3,497.3 L1086.1,496.0 L1090.0,494.8 L1093.8,493.6 L1097.6,492.4 L1101.5,491.2 L1105.3,490.0 L1109.1,488.9 L1113.0,487.8 L1116.8,486.6 L1120.6,485.5 L1124.5,484.5 L1128.3,483.4 L1132.2,482.3 L1136.0,481.3 L1139.9,480.3 L1143.7,479.2 L1147.6,478.2 L1151.4,477.2 L1155.3,476.3 L1159.1,475.3 L1163.0,474.4 L1166.9,473.4 L1170.7,472.5 L1174.6,471.6 L1178.5,470.7 L1182.4,469.8 L1186.3,468.9 L1190.2,468.0 L1194.1,467.2 L1198.0,466.3 L1201.9,465.5 L1205.8,464.7 L1209.8,463.9 L1213.7,463.1 L1217.7,462.3 L1221.6,461.5 L1225.6,460.7 L1229.6,460.0 L1233.5,459.2 L1237.5,458.5 L1241.5,457.8 L1245.5,457.1 L1249.6,456.5 L1253.6,455.8 L1257.7,455.2 L1261.7,454.7 L1265.8,454.1 L1269.9,453.6 L1274.0,453.2 L1278.2,452.8 L1282.3,452.4 L1286.5,452.0 L1290.7,451.8 L1294.9,451.5 L1299.1,451.4 L1303.3,451.2 L1307.6,451.2 L1311.8,451.2 L1316.0,451.3 L1320.1,451.6 L1324.3,451.9 L1328.4,452.3 L1332.4,452.8 L1336.3,453.5 L1340.2,454.3 L1344.0,455.3 L1347.7,456.4 L1351.3,457.6 L1354.8,459.0 L1358.2,460.6 L1361.4,462.4 L1364.5,464.4 L1367.5,466.5 L1370.3,468.9 L1372.9,471.5 L1375.4,474.2 L1377.8,477.1 L1380.0,480.2 L1382.0,483.4 L1383.9,486.8 L1385.7,490.3 L1387.3,493.9 L1388.8,497.7 L1390.1,501.5 L1391.3,505.4 L1392.4,509.4 L1393.4,513.5 L1394.2,517.6 L1394.9,521.8 L1395.5,526.0 L1396.0,530.3 L1396.4,534.5 L1396.6,538.8 L1396.7,543.1 L1396.8,547.3 L1396.7,551.6 L1396.5,555.7 L1396.2,559.9 L1395.8,564.0 L1395.3,568.0 L1394.8,571.9 L1394.1,575.8 L1393.3,579.5 L1392.5,583.2Z" fill="#232528"/>
  <path d="M766.6,528.0 L768.1,531.7 L769.6,535.4 L771.1,539.1 L772.6,542.9 L774.1,546.6 L775.6,550.4 L777.1,554.3 L778.7,558.1 L780.2,561.9 L781.8,565.7 L783.4,569.6 L785.1,573.4 L786.7,577.2 L788.4,581.1 L790.1,584.9 L791.9,588.7 L793.7,592.5 L795.5,596.2 L797.4,599.9 L799.3,603.6 L801.2,607.3 L803.3,610.9 L805.3,614.5 L807.4,618.1 L809.6,621.6 L811.9,625.0 L814.2,628.4 L816.5,631.8 L819.0,635.1 L821.5,638.3 L824.0,641.4 L826.7,644.5 L829.4,647.5 L832.2,650.5 L835.1,653.3 L838.1,656.1 L841.2,658.8 L844.3,661.4 L847.6,663.9 L850.9,666.3 L854.4,668.6 L857.9,670.7 L861.5,672.8 L865.3,674.8 L869.2,676.7 L873.1,678.4 L873.8,677.8 L875.2,674.2 L876.7,670.7 L878.3,667.1 L879.8,663.6 L881.4,660.0 L883.1,656.4 L884.7,652.8 L886.4,649.1 L888.1,645.5 L889.9,641.9 L891.7,638.3 L893.5,634.6 L895.3,631.0 L897.2,627.4 L899.1,623.8 L901.1,620.2 L903.1,616.6 L905.1,613.0 L907.1,609.5 L909.2,605.9 L911.3,602.4 L913.5,598.9 L915.7,595.4 L917.9,591.9 L920.2,588.5 L922.5,585.0 L924.8,581.7 L927.2,578.3 L929.6,575.0 L932.0,571.7 L934.5,568.4 L937.1,565.2 L939.6,562.0 L942.2,558.9 L944.8,555.8 L947.5,552.7 L950.2,549.7 L953.0,546.8 L955.8,543.9 L958.6,541.0 L961.5,538.2 L964.4,535.5 L967.4,532.8 L970.4,530.2 L973.4,527.6 L976.5,525.1 L979.6,522.7 L982.8,520.3 L986.0,518.0 L989.2,515.8 L992.5,513.6 L995.9,511.5 L999.2,509.5 L1002.6,507.5 L1006.1,505.6 L1009.5,503.8 L1013.1,502.0 L1016.6,500.2 L1020.2,498.5 L1023.8,496.9 L1027.4,495.3 L1031.1,493.8 L1034.8,492.3 L1038.5,490.8 L1042.3,489.4 L1046.0,488.1 L1049.8,486.7 L1053.6,485.4 L1057.5,484.2 L1061.3,483.0 L1065.2,481.8 L1069.1,480.6 L1073.0,479.5 L1077.0,478.4 L1080.9,477.4 L1084.9,476.3 L1088.8,475.3 L1092.8,474.3 L1096.8,473.3 L1100.8,472.3 L1104.8,471.4 L1108.8,470.5 L1112.8,469.5 L1116.9,468.6 L1120.9,467.7 L1124.9,466.8 L1129.0,465.9 L1133.0,465.1 L1137.0,464.2 L1141.1,463.3 L1145.1,462.4 L1149.1,461.5 L1153.2,460.6 L1157.2,459.7 L1161.2,458.8 L1165.2,457.9 L1169.2,457.1 L1173.2,456.2 L1177.2,455.3 L1181.2,454.4 L1185.2,453.6 L1189.2,452.7 L1193.2,451.9 L1197.2,451.0 L1201.2,450.2 L1205.2,449.4 L1209.2,448.6 L1213.2,447.8 L1217.2,447.1 L1221.2,446.3 L1225.2,445.6 L1229.2,444.9 L1233.2,444.3 L1237.2,443.6 L1241.2,443.0 L1245.2,442.4 L1249.2,441.8 L1253.2,441.3 L1257.2,440.8 L1261.2,440.4 L1265.2,439.9 L1269.2,439.5 L1273.2,439.2 L1277.3,438.9 L1281.3,438.6 L1285.3,438.3 L1289.4,438.1 L1293.4,438.0 L1297.5,437.9 L1301.5,437.8 L1305.5,437.9 L1309.6,437.9 L1313.6,438.1 L1317.6,438.3 L1321.6,438.6 L1325.5,439.1 L1329.4,439.6 L1333.3,440.2 L1337.2,441.0 L1340.9,441.9 L1344.7,442.9 L1348.4,444.1 L1352.0,445.4 L1355.5,446.9 L1359.0,448.5 L1362.4,450.3 L1365.7,452.3 L1368.9,454.5 L1372.1,456.9 L1375.1,459.5 L1378.1,462.3 L1380.9,465.3 L1383.6,468.5 L1386.2,472.0 L1388.7,475.7 L1391.1,479.7 L1406.1,477.6 L1403.7,473.8 L1401.1,470.1 L1398.5,466.7 L1395.8,463.4 L1392.9,460.3 L1390.0,457.5 L1387.0,454.8 L1383.9,452.2 L1380.7,449.9 L1377.4,447.7 L1374.1,445.6 L1370.7,443.7 L1367.2,442.0 L1363.7,440.4 L1360.1,438.9 L1356.4,437.6 L1352.7,436.3 L1349.0,435.2 L1345.2,434.3 L1341.4,433.4 L1337.5,432.6 L1333.6,431.9 L1329.7,431.4 L1325.8,430.9 L1321.8,430.4 L1317.8,430.1 L1313.8,429.9 L1309.8,429.7 L1305.8,429.6 L1301.8,429.5 L1297.8,429.5 L1293.8,429.5 L1289.7,429.6 L1285.7,429.8 L1281.7,429.9 L1277.7,430.1 L1273.7,430.4 L1269.6,430.7 L1265.6,431.0 L1261.6,431.4 L1257.6,431.8 L1253.6,432.2 L1249.6,432.7 L1245.6,433.2 L1241.6,433.7 L1237.5,434.2 L1233.5,434.8 L1229.5,435.4 L1225.5,436.0 L1221.5,436.6 L1217.5,437.3 L1213.5,437.9 L1209.5,438.6 L1205.4,439.3 L1201.4,440.0 L1197.4,440.7 L1193.4,441.5 L1189.3,442.2 L1185.3,442.9 L1181.3,443.7 L1177.3,444.4 L1173.2,445.2 L1169.2,445.9 L1165.1,446.7 L1161.1,447.4 L1157.1,448.2 L1153.0,448.9 L1148.9,449.6 L1144.9,450.4 L1140.8,451.1 L1136.8,451.8 L1132.7,452.5 L1128.6,453.2 L1124.6,453.9 L1120.5,454.6 L1116.4,455.3 L1112.4,456.0 L1108.3,456.7 L1104.3,457.4 L1100.2,458.2 L1096.2,458.9 L1092.2,459.7 L1088.1,460.5 L1084.1,461.3 L1080.2,462.2 L1076.2,463.0 L1072.2,463.9 L1068.3,464.8 L1064.3,465.8 L1060.4,466.8 L1056.5,467.8 L1052.6,468.8 L1048.8,469.9 L1044.9,471.1 L1041.1,472.3 L1037.3,473.5 L1033.6,474.8 L1029.8,476.1 L1026.1,477.5 L1022.4,478.9 L1018.8,480.4 L1015.1,482.0 L1011.5,483.6 L1008.0,485.3 L1004.4,487.0 L1000.9,488.8 L997.5,490.7 L994.0,492.6 L990.6,494.6 L987.3,496.7 L984.0,498.9 L980.7,501.1 L977.4,503.3 L974.2,505.7 L971.0,508.1 L967.9,510.5 L964.8,513.0 L961.7,515.6 L958.7,518.2 L955.6,520.8 L952.7,523.5 L949.8,526.3 L946.9,529.1 L944.0,532.0 L941.2,534.9 L938.4,537.8 L935.6,540.8 L932.9,543.8 L930.2,546.9 L927.6,550.0 L925.0,553.2 L922.4,556.3 L919.9,559.6 L917.4,562.8 L915.0,566.1 L912.5,569.4 L910.1,572.7 L907.8,576.1 L905.5,579.5 L903.2,582.9 L901.0,586.3 L898.8,589.8 L896.6,593.2 L894.5,596.7 L892.4,600.3 L890.4,603.8 L888.4,607.3 L886.4,610.9 L884.4,614.4 L882.5,618.0 L880.7,621.6 L878.9,625.2 L877.1,628.8 L875.3,632.4 L873.6,636.0 L872.0,639.6 L870.3,643.2 L868.7,646.8 L867.2,650.4 L865.7,654.0 L865.6,653.5 L862.2,651.1 L858.8,648.6 L855.5,646.0 L852.2,643.4 L849.0,640.7 L845.9,638.0 L842.8,635.2 L839.8,632.4 L836.8,629.5 L834.0,626.6 L831.1,623.6 L828.4,620.5 L825.7,617.4 L823.1,614.3 L820.6,611.1 L818.1,607.8 L815.8,604.5 L813.5,601.2 L811.2,597.8 L809.1,594.3 L807.0,590.8 L805.0,587.3 L803.0,583.7 L801.1,580.0 L799.3,576.4 L797.6,572.6 L795.9,568.9 L794.3,565.1 L792.8,561.3 L791.3,557.4 L789.9,553.6 L788.5,549.7 L787.2,545.7 L786.0,541.8 L784.8,537.8 L783.7,533.8 L782.6,529.8 L781.6,525.7Z" fill="#858a8d"/>
  <g clip-path="url(#clipPanel)"><path d="M873.8,677.8 L875.2,674.2 L876.7,670.7 L878.3,667.1 L879.8,663.6 L881.4,660.0 L883.1,656.4 L884.7,652.8 L886.4,649.1 L888.1,645.5 L889.9,641.9 L891.7,638.3 L893.5,634.6 L895.3,631.0 L897.2,627.4 L899.1,623.8 L901.1,620.2 L903.1,616.6 L905.1,613.0 L907.1,609.5 L909.2,605.9 L911.3,602.4 L913.5,598.9 L915.7,595.4 L917.9,591.9 L920.2,588.5 L922.5,585.0 L924.8,581.7 L927.2,578.3 L929.6,575.0 L932.0,571.7 L934.5,568.4 L937.1,565.2 L939.6,562.0 L942.2,558.9 L944.8,555.8 L947.5,552.7 L950.2,549.7 L953.0,546.8 L955.8,543.9 L958.6,541.0 L961.5,538.2 L964.4,535.5 L967.4,532.8 L970.4,530.2 L973.4,527.6 L976.5,525.1 L979.6,522.7 L982.8,520.3 L986.0,518.0 L989.2,515.8 L992.5,513.6 L995.9,511.5 L999.2,509.5 L1002.6,507.5 L1006.1,505.6 L1009.5,503.8 L1013.1,502.0 L1016.6,500.2 L1020.2,498.5 L1023.8,496.9 L1027.4,495.3 L1031.1,493.8 L1034.8,492.3 L1038.5,490.8 L1042.3,489.4 L1046.0,488.1 L1049.8,486.7 L1053.6,485.4 L1057.5,484.2 L1061.3,483.0 L1065.2,481.8 L1069.1,480.6 L1073.0,479.5 L1077.0,478.4 L1080.9,477.4 L1084.9,476.3 L1088.8,475.3 L1092.8,474.3 L1096.8,473.3 L1100.8,472.3 L1104.8,471.4 L1108.8,470.5 L1112.8,469.5 L1116.9,468.6 L1120.9,467.7 L1124.9,466.8 L1129.0,465.9 L1133.0,465.1 L1137.0,464.2 L1141.1,463.3 L1145.1,462.4 L1149.1,461.5 L1153.2,460.6 L1157.2,459.7 L1161.2,458.8 L1165.2,457.9 L1169.2,457.1 L1173.2,456.2 L1177.2,455.3 L1181.2,454.4 L1185.2,453.6 L1189.2,452.7 L1193.2,451.9 L1197.2,451.0 L1201.2,450.2 L1205.2,449.4 L1209.2,448.6 L1213.2,447.8 L1217.2,447.1 L1221.2,446.3 L1225.2,445.6 L1229.2,444.9 L1233.2,444.3 L1237.2,443.6 L1241.2,443.0 L1245.2,442.4 L1249.2,441.8 L1253.2,441.3 L1257.2,440.8 L1261.2,440.4 L1265.2,439.9 L1269.2,439.5 L1273.2,439.2 L1277.3,438.9 L1281.3,438.6 L1285.3,438.3 L1289.4,438.1 L1293.4,438.0 L1297.5,437.9 L1301.5,437.8 L1305.5,437.9 L1309.6,437.9 L1313.6,438.1 L1317.6,438.3 L1321.6,438.6 L1325.5,439.1 L1329.4,439.6 L1333.3,440.2 L1337.2,441.0 L1340.9,441.9 L1344.7,442.9 L1348.4,444.1 L1352.0,445.4 L1355.5,446.9 L1359.0,448.5 L1362.4,450.3 L1365.7,452.3 L1368.9,454.5 L1372.1,456.9 L1375.1,459.5 L1378.1,462.3 L1380.9,465.3 L1383.6,468.5 L1386.2,472.0 L1388.7,475.7 L1391.1,479.7 L1400.0,512.0 L1402.0,583.0 L1393.0,583.0 L871.3,698.0 L873.1,694.4 L874.9,690.8 L876.7,687.2 L878.5,683.6 L880.3,680.1 L882.2,676.5 L884.0,673.0 L885.9,669.4 L887.8,665.9 L889.8,662.4 L891.7,658.9 L893.7,655.4 L895.7,651.9 L897.7,648.5 L899.7,645.1 L901.8,641.6 L903.9,638.2 L906.0,634.8 L908.2,631.4 L910.3,628.1 L912.5,624.7 L914.8,621.4 L917.0,618.1 L919.3,614.8 L921.6,611.5 L923.9,608.2 L926.3,605.0 L928.7,601.7 L931.1,598.5 L933.6,595.3 L936.1,592.2 L938.6,589.0 L941.2,585.9 L943.8,582.8 L946.4,579.7 L949.1,576.7 L951.8,573.7 L954.5,570.8 L957.3,567.8 L960.1,565.0 L963.0,562.1 L965.9,559.3 L968.8,556.6 L971.8,553.9 L974.8,551.3 L977.9,548.7 L981.0,546.1 L984.1,543.6 L987.3,541.2 L990.5,538.9 L993.8,536.6 L997.2,534.3 L1000.5,532.2 L1004.0,530.1 L1007.4,528.0 L1010.9,526.1 L1014.5,524.2 L1018.1,522.3 L1021.7,520.5 L1025.3,518.8 L1029.0,517.1 L1032.7,515.5 L1036.5,513.9 L1040.2,512.3 L1044.0,510.8 L1047.8,509.3 L1051.6,507.9 L1055.4,506.5 L1059.3,505.1 L1063.1,503.7 L1066.9,502.4 L1070.8,501.1 L1074.6,499.8 L1078.5,498.5 L1082.3,497.3 L1086.1,496.0 L1090.0,494.8 L1093.8,493.6 L1097.6,492.4 L1101.5,491.2 L1105.3,490.0 L1109.1,488.9 L1113.0,487.8 L1116.8,486.6 L1120.6,485.5 L1124.5,484.5 L1128.3,483.4 L1132.2,482.3 L1136.0,481.3 L1139.9,480.3 L1143.7,479.2 L1147.6,478.2 L1151.4,477.2 L1155.3,476.3 L1159.1,475.3 L1163.0,474.4 L1166.9,473.4 L1170.7,472.5 L1174.6,471.6 L1178.5,470.7 L1182.4,469.8 L1186.3,468.9 L1190.2,468.0 L1194.1,467.2 L1198.0,466.3 L1201.9,465.5 L1205.8,464.7 L1209.8,463.9 L1213.7,463.1 L1217.7,462.3 L1221.6,461.5 L1225.6,460.7 L1229.6,460.0 L1233.5,459.2 L1237.5,458.5 L1241.5,457.8 L1245.5,457.1 L1249.6,456.5 L1253.6,455.8 L1257.7,455.2 L1261.7,454.7 L1265.8,454.1 L1269.9,453.6 L1274.0,453.2 L1278.2,452.8 L1282.3,452.4 L1286.5,452.0 L1290.7,451.8 L1294.9,451.5 L1299.1,451.4 L1303.3,451.2 L1307.6,451.2 L1311.8,451.2 L1316.0,451.3 L1320.1,451.6 L1324.3,451.9 L1328.4,452.3 L1332.4,452.8 L1336.3,453.5 L1340.2,454.3 L1344.0,455.3 L1347.7,456.4 L1351.3,457.6 L1354.8,459.0 L1358.2,460.6 L1361.4,462.4 L1364.5,464.4 L1367.5,466.5 L1370.3,468.9 L1372.9,471.5 L1375.4,474.2 L1377.8,477.1 L1380.0,480.2 L1382.0,483.4 L1383.9,486.8 L1385.7,490.3 L1387.3,493.9 L1388.8,497.7 L1390.1,501.5 L1391.3,505.4 L1392.4,509.4 L1393.4,513.5 L1394.2,517.6 L1394.9,521.8 L1395.5,526.0 L1396.0,530.3 L1396.4,534.5 L1396.6,538.8 L1396.7,543.1 L1396.8,547.3 L1396.7,551.6 L1396.5,555.7 L1396.2,559.9 L1395.8,564.0 L1395.3,568.0 L1394.8,571.9 L1394.1,575.8 L1393.3,579.5 L1392.5,583.2Z" fill="url(#gOv2)"/><path d="M766.6,528.0 L768.1,531.7 L769.6,535.4 L771.1,539.1 L772.6,542.9 L774.1,546.6 L775.6,550.4 L777.1,554.3 L778.7,558.1 L780.2,561.9 L781.8,565.7 L783.4,569.6 L785.1,573.4 L786.7,577.2 L788.4,581.1 L790.1,584.9 L791.9,588.7 L793.7,592.5 L795.5,596.2 L797.4,599.9 L799.3,603.6 L801.2,607.3 L803.3,610.9 L805.3,614.5 L807.4,618.1 L809.6,621.6 L811.9,625.0 L814.2,628.4 L816.5,631.8 L819.0,635.1 L821.5,638.3 L824.0,641.4 L826.7,644.5 L829.4,647.5 L832.2,650.5 L835.1,653.3 L838.1,656.1 L841.2,658.8 L844.3,661.4 L847.6,663.9 L850.9,666.3 L854.4,668.6 L857.9,670.7 L861.5,672.8 L865.3,674.8 L869.2,676.7 L873.1,678.4 L873.8,677.8 L875.2,674.2 L876.7,670.7 L878.3,667.1 L879.8,663.6 L881.4,660.0 L883.1,656.4 L884.7,652.8 L886.4,649.1 L888.1,645.5 L889.9,641.9 L891.7,638.3 L893.5,634.6 L895.3,631.0 L897.2,627.4 L899.1,623.8 L901.1,620.2 L903.1,616.6 L905.1,613.0 L907.1,609.5 L909.2,605.9 L911.3,602.4 L913.5,598.9 L915.7,595.4 L917.9,591.9 L920.2,588.5 L922.5,585.0 L924.8,581.7 L927.2,578.3 L929.6,575.0 L932.0,571.7 L934.5,568.4 L937.1,565.2 L939.6,562.0 L942.2,558.9 L944.8,555.8 L947.5,552.7 L950.2,549.7 L953.0,546.8 L955.8,543.9 L958.6,541.0 L961.5,538.2 L964.4,535.5 L967.4,532.8 L970.4,530.2 L973.4,527.6 L976.5,525.1 L979.6,522.7 L982.8,520.3 L986.0,518.0 L989.2,515.8 L992.5,513.6 L995.9,511.5 L999.2,509.5 L1002.6,507.5 L1006.1,505.6 L1009.5,503.8 L1013.1,502.0 L1016.6,500.2 L1020.2,498.5 L1023.8,496.9 L1027.4,495.3 L1031.1,493.8 L1034.8,492.3 L1038.5,490.8 L1042.3,489.4 L1046.0,488.1 L1049.8,486.7 L1053.6,485.4 L1057.5,484.2 L1061.3,483.0 L1065.2,481.8 L1069.1,480.6 L1073.0,479.5 L1077.0,478.4 L1080.9,477.4 L1084.9,476.3 L1088.8,475.3 L1092.8,474.3 L1096.8,473.3 L1100.8,472.3 L1104.8,471.4 L1108.8,470.5 L1112.8,469.5 L1116.9,468.6 L1120.9,467.7 L1124.9,466.8 L1129.0,465.9 L1133.0,465.1 L1137.0,464.2 L1141.1,463.3 L1145.1,462.4 L1149.1,461.5 L1153.2,460.6 L1157.2,459.7 L1161.2,458.8 L1165.2,457.9 L1169.2,457.1 L1173.2,456.2 L1177.2,455.3 L1181.2,454.4 L1185.2,453.6 L1189.2,452.7 L1193.2,451.9 L1197.2,451.0 L1201.2,450.2 L1205.2,449.4 L1209.2,448.6 L1213.2,447.8 L1217.2,447.1 L1221.2,446.3 L1225.2,445.6 L1229.2,444.9 L1233.2,444.3 L1237.2,443.6 L1241.2,443.0 L1245.2,442.4 L1249.2,441.8 L1253.2,441.3 L1257.2,440.8 L1261.2,440.4 L1265.2,439.9 L1269.2,439.5 L1273.2,439.2 L1277.3,438.9 L1281.3,438.6 L1285.3,438.3 L1289.4,438.1 L1293.4,438.0 L1297.5,437.9 L1301.5,437.8 L1305.5,437.9 L1309.6,437.9 L1313.6,438.1 L1317.6,438.3 L1321.6,438.6 L1325.5,439.1 L1329.4,439.6 L1333.3,440.2 L1337.2,441.0 L1340.9,441.9 L1344.7,442.9 L1348.4,444.1 L1352.0,445.4 L1355.5,446.9 L1359.0,448.5 L1362.4,450.3 L1365.7,452.3 L1368.9,454.5 L1372.1,456.9 L1375.1,459.5 L1378.1,462.3 L1380.9,465.3 L1383.6,468.5 L1386.2,472.0 L1388.7,475.7 L1391.1,479.7 L1406.1,477.6 L1403.7,473.8 L1401.1,470.1 L1398.5,466.7 L1395.8,463.4 L1392.9,460.3 L1390.0,457.5 L1387.0,454.8 L1383.9,452.2 L1380.7,449.9 L1377.4,447.7 L1374.1,445.6 L1370.7,443.7 L1367.2,442.0 L1363.7,440.4 L1360.1,438.9 L1356.4,437.6 L1352.7,436.3 L1349.0,435.2 L1345.2,434.3 L1341.4,433.4 L1337.5,432.6 L1333.6,431.9 L1329.7,431.4 L1325.8,430.9 L1321.8,430.4 L1317.8,430.1 L1313.8,429.9 L1309.8,429.7 L1305.8,429.6 L1301.8,429.5 L1297.8,429.5 L1293.8,429.5 L1289.7,429.6 L1285.7,429.8 L1281.7,429.9 L1277.7,430.1 L1273.7,430.4 L1269.6,430.7 L1265.6,431.0 L1261.6,431.4 L1257.6,431.8 L1253.6,432.2 L1249.6,432.7 L1245.6,433.2 L1241.6,433.7 L1237.5,434.2 L1233.5,434.8 L1229.5,435.4 L1225.5,436.0 L1221.5,436.6 L1217.5,437.3 L1213.5,437.9 L1209.5,438.6 L1205.4,439.3 L1201.4,440.0 L1197.4,440.7 L1193.4,441.5 L1189.3,442.2 L1185.3,442.9 L1181.3,443.7 L1177.3,444.4 L1173.2,445.2 L1169.2,445.9 L1165.1,446.7 L1161.1,447.4 L1157.1,448.2 L1153.0,448.9 L1148.9,449.6 L1144.9,450.4 L1140.8,451.1 L1136.8,451.8 L1132.7,452.5 L1128.6,453.2 L1124.6,453.9 L1120.5,454.6 L1116.4,455.3 L1112.4,456.0 L1108.3,456.7 L1104.3,457.4 L1100.2,458.2 L1096.2,458.9 L1092.2,459.7 L1088.1,460.5 L1084.1,461.3 L1080.2,462.2 L1076.2,463.0 L1072.2,463.9 L1068.3,464.8 L1064.3,465.8 L1060.4,466.8 L1056.5,467.8 L1052.6,468.8 L1048.8,469.9 L1044.9,471.1 L1041.1,472.3 L1037.3,473.5 L1033.6,474.8 L1029.8,476.1 L1026.1,477.5 L1022.4,478.9 L1018.8,480.4 L1015.1,482.0 L1011.5,483.6 L1008.0,485.3 L1004.4,487.0 L1000.9,488.8 L997.5,490.7 L994.0,492.6 L990.6,494.6 L987.3,496.7 L984.0,498.9 L980.7,501.1 L977.4,503.3 L974.2,505.7 L971.0,508.1 L967.9,510.5 L964.8,513.0 L961.7,515.6 L958.7,518.2 L955.6,520.8 L952.7,523.5 L949.8,526.3 L946.9,529.1 L944.0,532.0 L941.2,534.9 L938.4,537.8 L935.6,540.8 L932.9,543.8 L930.2,546.9 L927.6,550.0 L925.0,553.2 L922.4,556.3 L919.9,559.6 L917.4,562.8 L915.0,566.1 L912.5,569.4 L910.1,572.7 L907.8,576.1 L905.5,579.5 L903.2,582.9 L901.0,586.3 L898.8,589.8 L896.6,593.2 L894.5,596.7 L892.4,600.3 L890.4,603.8 L888.4,607.3 L886.4,610.9 L884.4,614.4 L882.5,618.0 L880.7,621.6 L878.9,625.2 L877.1,628.8 L875.3,632.4 L873.6,636.0 L872.0,639.6 L870.3,643.2 L868.7,646.8 L867.2,650.4 L865.7,654.0 L865.6,653.5 L862.2,651.1 L858.8,648.6 L855.5,646.0 L852.2,643.4 L849.0,640.7 L845.9,638.0 L842.8,635.2 L839.8,632.4 L836.8,629.5 L834.0,626.6 L831.1,623.6 L828.4,620.5 L825.7,617.4 L823.1,614.3 L820.6,611.1 L818.1,607.8 L815.8,604.5 L813.5,601.2 L811.2,597.8 L809.1,594.3 L807.0,590.8 L805.0,587.3 L803.0,583.7 L801.1,580.0 L799.3,576.4 L797.6,572.6 L795.9,568.9 L794.3,565.1 L792.8,561.3 L791.3,557.4 L789.9,553.6 L788.5,549.7 L787.2,545.7 L786.0,541.8 L784.8,537.8 L783.7,533.8 L782.6,529.8 L781.6,525.7Z" fill="url(#gOv2)"/></g>
  <path d="M1392.5,583.2 L1393.3,579.5 L1394.1,575.8 L1394.8,571.9 L1395.3,568.0 L1395.8,564.0 L1396.2,559.9 L1396.5,555.7 L1396.7,551.6 L1396.8,547.3 L1396.7,543.1 L1396.6,538.8 L1396.4,534.5 L1396.0,530.3 L1395.5,526.0 L1394.9,521.8 L1394.2,517.6 L1393.4,513.5 L1392.4,509.4 L1391.3,505.4 L1390.1,501.5 L1388.8,497.7 L1387.3,493.9 L1385.7,490.3 L1383.9,486.8 L1382.0,483.4 L1380.0,480.2 L1377.8,477.1 L1375.4,474.2 L1372.9,471.5 L1370.3,468.9 L1367.5,466.5 L1364.5,464.4 L1361.4,462.4 L1358.2,460.6 L1354.8,459.0 L1351.3,457.6 L1347.7,456.4 L1344.0,455.3 L1340.2,454.3 L1336.3,453.5 L1332.4,452.8 L1328.4,452.3 L1324.3,451.9 L1320.1,451.6 L1316.0,451.3 L1311.8,451.2 L1307.6,451.2 L1303.3,451.2 L1299.1,451.4 L1294.9,451.5 L1290.7,451.8 L1286.5,452.0 L1282.3,452.4 L1278.2,452.8 L1274.0,453.2 L1269.9,453.6 L1265.8,454.1 L1261.7,454.7 L1257.7,455.2 L1253.6,455.8 L1249.6,456.5 L1245.5,457.1 L1241.5,457.8 L1237.5,458.5 L1233.5,459.2 L1229.6,460.0 L1225.6,460.7 L1221.6,461.5 L1217.7,462.3 L1213.7,463.1 L1209.8,463.9 L1205.8,464.7 L1201.9,465.5 L1198.0,466.3 L1194.1,467.2 L1190.2,468.0 L1186.3,468.9 L1182.4,469.8 L1178.5,470.7 L1174.6,471.6 L1170.7,472.5 L1166.9,473.4 L1163.0,474.4 L1159.1,475.3 L1155.3,476.3 L1151.4,477.2 L1147.6,478.2 L1143.7,479.2 L1139.9,480.3 L1136.0,481.3 L1132.2,482.3 L1128.3,483.4 L1124.5,484.5 L1120.6,485.5 L1116.8,486.6 L1113.0,487.8 L1109.1,488.9 L1105.3,490.0 L1101.5,491.2 L1097.6,492.4 L1093.8,493.6 L1090.0,494.8 L1086.1,496.0 L1082.3,497.3 L1078.5,498.5 L1074.6,499.8 L1070.8,501.1 L1066.9,502.4 L1063.1,503.7 L1059.3,505.1 L1055.4,506.5 L1051.6,507.9 L1047.8,509.3 L1044.0,510.8 L1040.2,512.3 L1036.5,513.9 L1032.7,515.5 L1029.0,517.1 L1025.3,518.8 L1021.7,520.5 L1018.1,522.3 L1014.5,524.2 L1010.9,526.1 L1007.4,528.0 L1004.0,530.1 L1000.5,532.2 L997.2,534.3 L993.8,536.6 L990.5,538.9 L987.3,541.2 L984.1,543.6 L981.0,546.1 L977.9,548.7 L974.8,551.3 L971.8,553.9 L968.8,556.6 L965.9,559.3 L963.0,562.1 L960.1,565.0 L957.3,567.8 L954.5,570.8 L951.8,573.7 L949.1,576.7 L946.4,579.7 L943.8,582.8 L941.2,585.9 L938.6,589.0 L936.1,592.2 L933.6,595.3 L931.1,598.5 L928.7,601.7 L926.3,605.0 L923.9,608.2 L921.6,611.5 L919.3,614.8 L917.0,618.1 L914.8,621.4 L912.5,624.7 L910.3,628.1 L908.2,631.4 L906.0,634.8 L903.9,638.2 L901.8,641.6 L899.7,645.1 L897.7,648.5 L895.7,651.9 L893.7,655.4 L891.7,658.9 L889.8,662.4 L887.8,665.9 L885.9,669.4 L884.0,673.0 L882.2,676.5 L880.3,680.1 L878.5,683.6 L876.7,687.2 L874.9,690.8 L873.1,694.4 L871.3,698.0 L869.6,701.6 L867.8,705.2 L866.1,708.9 L864.4,712.5 L862.7,716.2 L861.1,719.8 L859.4,723.5 L857.7,727.2 L856.1,730.9 L854.5,734.5 L852.9,738.2 L851.3,741.9 L849.7,745.6 L848.1,749.3 L846.5,753.1 L844.9,756.8 L843.4,760.5 L841.8,764.2 L840.2,768.0 L838.7,771.7 L837.2,775.4 L835.6,779.2 L834.1,782.9 L832.6,786.7 L831.0,790.4 L829.5,794.2 L828.0,797.9 L826.5,801.7 L824.9,805.4 L823.4,809.2 L821.9,812.9 L820.4,816.7 L818.9,820.4 L817.3,824.2 L815.8,827.9 L814.3,831.6 L812.8,835.4 L811.3,839.1 L809.8,842.9 L808.3,846.7 L806.8,850.4 L805.3,854.2 L803.9,857.9 L802.5,861.7 L801.1,865.5 L799.7,869.3 L798.3,873.0 L797.0,876.8 L795.7,880.6 L794.5,884.4 L793.2,888.3 L792.1,892.1 L790.9,895.9 L789.8,899.8 L788.7,903.6 L787.7,907.5 L786.7,911.4 L785.8,915.3 L784.9,919.2 L784.1,923.1 L783.3,927.1 L782.6,931.0 L781.9,935.0 L781.3,939.0 L780.8,943.0 L780.3,947.0 L780.0,951.0 L779.7,955.0 L779.5,959.1 L779.4,963.1 L779.5,967.1 L779.7,971.0 L780.0,975.0 L780.5,978.9 L781.2,982.7 L782.0,986.5 L783.1,990.3 L784.3,994.0 L785.8,997.7 L787.4,1001.2 L789.3,1004.7 L791.5,1008.1 L793.8,1011.5 L796.5,1014.7 L799.4,1017.8 L802.6,1020.8 L806.1,1023.8 L1000.0,1001.4 L1151.0,958.0 L1205.0,944.0 L1266.0,910.0 L1308.0,862.0 L1342.0,806.0 L1372.0,720.0 L1390.0,655.0 L1401.0,583.0Z" fill="#26282b"/>
  <g clip-path="url(#clipOpen)">
    <path d="M1062,604 C1040,606 1028,598 1034,586 L1050,557 C1054,550 1060,548 1070,546.5 L1318,507 C1330,505 1334,507 1328,514 L1304,552 C1300,557 1296,558 1288,559.5 Z" fill="#4a4c4f"/>
    <path d="M1303,531 L1327,512 L1304,552 C1300,557 1296,558 1288,559.5 L1290,558 Z" fill="#2e3033"/>
    <path d="M1086,594 C1078,595 1076,591 1080,585 L1092,568 C1095,564 1098,563 1104,562 L1298,529.5 C1304,528.5 1306,530 1303,535 L1290,558 C1288,561 1286,561 1282,561.5 Z" fill="#6a6d70" stroke="#141516" stroke-width="2.2"/>
    <text x="0" y="0" transform="translate(1098,590) rotate(-10) skewX(-6)" font-family="Liberation Sans" font-weight="bold" font-size="27" fill="#a3a6a9" stroke="#a3a6a9" stroke-width="0.9" textLength="190" lengthAdjust="spacingAndGlyphs">VIKINGBAGS</text>
    <path d="M1226.8,430.0 L1226.8,434.0 L1226.7,438.1 L1226.6,442.2 L1226.5,446.3 L1226.4,450.4 L1226.2,454.4 L1226.1,458.5 L1225.9,462.6 L1225.8,466.7 L1225.6,470.7 L1225.4,474.8 L1225.2,478.9 L1225.0,483.0 L1224.7,487.0 L1224.5,491.1 L1224.2,495.2 L1224.0,499.2 L1223.7,503.3 L1223.4,507.4 L1223.1,511.4 L1222.7,515.5 L1222.4,519.6 L1222.1,523.6 L1221.7,527.7 L1221.3,531.7 L1221.0,535.8 L1220.6,539.8 L1220.2,543.9 L1219.8,547.9 L1219.3,552.0 L1218.9,556.0 L1218.4,560.1 L1218.0,564.1 L1217.5,568.2 L1217.0,572.2 L1216.5,576.3 L1216.0,580.3 L1215.5,584.3 L1214.9,588.4 L1214.4,592.4 L1213.8,596.4 L1213.2,600.5 L1212.6,604.5 L1212.1,608.5 L1211.4,612.6 L1210.8,616.6 L1210.2,620.6 L1209.5,624.6 L1208.9,628.6 L1208.2,632.7 L1207.5,636.7 L1206.9,640.7 L1206.2,644.7 L1205.4,648.7 L1204.7,652.7 L1204.0,656.7 L1203.2,660.7 L1202.5,664.7 L1201.7,668.7 L1200.9,672.7 L1200.1,676.7 L1199.3,680.7 L1198.5,684.7 L1197.7,688.7 L1196.8,692.7 L1196.0,696.7 L1195.1,700.7 L1194.2,704.6 L1193.4,708.6 L1192.5,712.6 L1191.6,716.6 L1190.6,720.5 L1189.7,724.5 L1188.8,728.5 L1187.8,732.4 L1186.9,736.4 L1185.9,740.4 L1184.9,744.3 L1183.9,748.3 L1182.9,752.2 L1181.9,756.2 L1180.8,760.1 L1179.8,764.1 L1178.7,768.0 L1177.7,771.9 L1295.0,871.0 L1430.0,871.0 L1430.0,400.0Z" fill="#26282b" fill-opacity="0" />
    <g clip-path="url(#clipPanel)"><rect x="1150" y="400" width="280" height="500" fill="url(#gOv)"/></g>
    <path d="M1202.7,662.1 L1206.6,661.1 L1210.6,660.2 L1214.6,659.3 L1218.6,658.4 L1222.6,657.5 L1226.6,656.7 L1230.7,655.8 L1234.7,654.9 L1238.8,654.1 L1242.9,653.2 L1246.9,652.3 L1251.0,651.5 L1255.1,650.6 L1259.2,649.7 L1263.3,648.8 L1267.4,647.9 L1271.5,646.9 L1275.6,645.9 L1279.6,644.9 L1283.7,643.9 L1287.8,642.9 L1291.8,641.8 L1295.8,640.7 L1299.8,639.5 L1303.8,638.3 L1307.8,637.1 L1311.8,635.8 L1315.7,634.5 L1319.6,633.1 L1323.5,631.7 L1327.3,630.2 L1331.2,628.7 L1335.0,627.1 L1338.7,625.4 L1342.5,623.7 L1346.2,621.9 L1349.8,620.0 L1353.4,618.0 L1357.0,616.0 L1360.5,613.9 L1364.0,611.7 L1367.5,609.5 L1370.9,607.1 L1374.2,604.7 L1377.5,602.2 L1380.7,599.5 L1383.9,596.8 L1387.1,594.0 L1390.1,591.1 L1393.1,588.1" fill="none" stroke="#2a2c2f" stroke-width="1.6"/>
    <path d="M807.6,853.2 L1176.6,773.0 L1295.0,871.0 L1266.0,910.0 L1205.0,944.0 L1150.0,958.0 L1150.0,899.0 L1014.0,927.0 L940.0,921.6 L900.0,913.8 L846.6,899.4 L794.6,885.0 L780.0,880.0Z" fill="#84888b"/>
    <path d="M780.0,880.0 L794.6,885.0 L846.6,899.4 L900.0,913.8 L940.0,921.6 L1014.0,927.0 L1150.0,899.0 L1150.0,922.9 L1016.8,952.3 L940.0,952.5 L900.0,945.6 L846.6,931.0 L787.4,913.8 L770.0,910.0Z" fill="#6b6e71"/>
    <path d="M770.0,910.0 L787.4,913.8 L846.6,931.0 L900.0,945.6 L940.0,952.5 L1016.8,952.3 L1150.0,922.9 L1150.0,980.0 L1000.0,1010.0 L800.0,1030.0 L770.0,1000.0Z" fill="#1b1b1d"/>
    <path d="M780,862 L860,662 L1197,596.5 Q1210,594.5 1208.5,607 L1176.5,773 L807.6,853.2 L780,860 Z" fill="#222528"/>
    <path d="M860,662 L1197,596.5 Q1210,594.5 1208.5,607 L1204,632 L860,699.5 Z" fill="url(#gBand)"/>
    <path d="M868,668.9 L1196,604.7 Q1201,604 1201,610" fill="none" stroke="#000" stroke-width="3.6" stroke-dasharray="7 5"/>
    <path d="M865.0,706.0 L1201.0,639.8" fill="none" stroke="#000" stroke-width="3.6" stroke-dasharray="7 5"/>
    <path d="M860.0,699.5 L1205.0,632.0" fill="none" stroke="#000" stroke-width="4"/>
    <path d="M943.3,671.2 L962.3,673.2 L940.3,826.0 L921.3,828.0Z" fill="#0f1012" stroke="#000" stroke-width="3.5"/><path d="M936.3,668.2 L959.3,681.2" stroke="#000" stroke-width="15" stroke-linecap="round"/><path d="M936.3,668.2 L959.3,681.2" stroke="#141517" stroke-width="8" stroke-linecap="round"/><path d="M937.3,669.2 L958.3,681.2" stroke="#000" stroke-width="1.8"/><path d="M1068.8,646.6 L1086.3,648.6 L1064.7,798.8 L1047.2,800.8Z" fill="#0f1012" stroke="#000" stroke-width="3.5"/><path d="M1061.8,643.6 L1083.3,656.6" stroke="#000" stroke-width="15" stroke-linecap="round"/><path d="M1061.8,643.6 L1083.3,656.6" stroke="#141517" stroke-width="8" stroke-linecap="round"/><path d="M1062.8,644.6 L1082.3,656.6" stroke="#000" stroke-width="1.8"/>
    <path d="M860,662 L1197,596.5 Q1210,594.5 1208.5,607 L1176.5,773" fill="none" stroke="#000" stroke-width="4.5" stroke-linejoin="round"/>
    <path d="M807.6,853.2 L1176.5,773" fill="none" stroke="#000" stroke-width="4"/>
  </g>
  <path d="M1392.5,583.2 L1393.3,579.5 L1394.1,575.8 L1394.8,571.9 L1395.3,568.0 L1395.8,564.0 L1396.2,559.9 L1396.5,555.7 L1396.7,551.6 L1396.8,547.3 L1396.7,543.1 L1396.6,538.8 L1396.4,534.5 L1396.0,530.3 L1395.5,526.0 L1394.9,521.8 L1394.2,517.6 L1393.4,513.5 L1392.4,509.4 L1391.3,505.4 L1390.1,501.5 L1388.8,497.7 L1387.3,493.9 L1385.7,490.3 L1383.9,486.8 L1382.0,483.4 L1380.0,480.2 L1377.8,477.1 L1375.4,474.2 L1372.9,471.5 L1370.3,468.9 L1367.5,466.5 L1364.5,464.4 L1361.4,462.4 L1358.2,460.6 L1354.8,459.0 L1351.3,457.6 L1347.7,456.4 L1344.0,455.3 L1340.2,454.3 L1336.3,453.5 L1332.4,452.8 L1328.4,452.3 L1324.3,451.9 L1320.1,451.6 L1316.0,451.3 L1311.8,451.2 L1307.6,451.2 L1303.3,451.2 L1299.1,451.4 L1294.9,451.5 L1290.7,451.8 L1286.5,452.0 L1282.3,452.4 L1278.2,452.8 L1274.0,453.2 L1269.9,453.6 L1265.8,454.1 L1261.7,454.7 L1257.7,455.2 L1253.6,455.8 L1249.6,456.5 L1245.5,457.1 L1241.5,457.8 L1237.5,458.5 L1233.5,459.2 L1229.6,460.0 L1225.6,460.7 L1221.6,461.5 L1217.7,462.3 L1213.7,463.1 L1209.8,463.9 L1205.8,464.7 L1201.9,465.5 L1198.0,466.3 L1194.1,467.2 L1190.2,468.0 L1186.3,468.9 L1182.4,469.8 L1178.5,470.7 L1174.6,471.6 L1170.7,472.5 L1166.9,473.4 L1163.0,474.4 L1159.1,475.3 L1155.3,476.3 L1151.4,477.2 L1147.6,478.2 L1143.7,479.2 L1139.9,480.3 L1136.0,481.3 L1132.2,482.3 L1128.3,483.4 L1124.5,484.5 L1120.6,485.5 L1116.8,486.6 L1113.0,487.8 L1109.1,488.9 L1105.3,490.0 L1101.5,491.2 L1097.6,492.4 L1093.8,493.6 L1090.0,494.8 L1086.1,496.0 L1082.3,497.3 L1078.5,498.5 L1074.6,499.8 L1070.8,501.1 L1066.9,502.4 L1063.1,503.7 L1059.3,505.1 L1055.4,506.5 L1051.6,507.9 L1047.8,509.3 L1044.0,510.8 L1040.2,512.3 L1036.5,513.9 L1032.7,515.5 L1029.0,517.1 L1025.3,518.8 L1021.7,520.5 L1018.1,522.3 L1014.5,524.2 L1010.9,526.1 L1007.4,528.0 L1004.0,530.1 L1000.5,532.2 L997.2,534.3 L993.8,536.6 L990.5,538.9 L987.3,541.2 L984.1,543.6 L981.0,546.1 L977.9,548.7 L974.8,551.3 L971.8,553.9 L968.8,556.6 L965.9,559.3 L963.0,562.1 L960.1,565.0 L957.3,567.8 L954.5,570.8 L951.8,573.7 L949.1,576.7 L946.4,579.7 L943.8,582.8 L941.2,585.9 L938.6,589.0 L936.1,592.2 L933.6,595.3 L931.1,598.5 L928.7,601.7 L926.3,605.0 L923.9,608.2 L921.6,611.5 L919.3,614.8 L917.0,618.1 L914.8,621.4 L912.5,624.7 L910.3,628.1 L908.2,631.4 L906.0,634.8 L903.9,638.2 L901.8,641.6 L899.7,645.1 L897.7,648.5 L895.7,651.9 L893.7,655.4 L891.7,658.9 L889.8,662.4 L887.8,665.9 L885.9,669.4 L884.0,673.0 L882.2,676.5 L880.3,680.1 L878.5,683.6 L876.7,687.2 L874.9,690.8 L873.1,694.4 L871.3,698.0 L869.6,701.6 L867.8,705.2 L866.1,708.9 L864.4,712.5 L862.7,716.2 L861.1,719.8 L859.4,723.5 L857.7,727.2 L856.1,730.9 L854.5,734.5 L852.9,738.2 L851.3,741.9 L849.7,745.6 L848.1,749.3 L846.5,753.1 L844.9,756.8 L843.4,760.5 L841.8,764.2 L840.2,768.0 L838.7,771.7 L837.2,775.4 L835.6,779.2 L834.1,782.9 L832.6,786.7 L831.0,790.4 L829.5,794.2 L828.0,797.9 L826.5,801.7 L824.9,805.4 L823.4,809.2 L821.9,812.9 L820.4,816.7 L818.9,820.4 L817.3,824.2 L815.8,827.9 L814.3,831.6 L812.8,835.4 L811.3,839.1 L809.8,842.9 L808.3,846.7 L806.8,850.4 L805.3,854.2 L803.9,857.9 L802.5,861.7 L801.1,865.5 L799.7,869.3 L798.3,873.0 L797.0,876.8 L795.7,880.6 L794.5,884.4 L793.2,888.3 L792.1,892.1 L790.9,895.9 L789.8,899.8 L788.7,903.6 L787.7,907.5 L786.7,911.4 L785.8,915.3 L784.9,919.2 L784.1,923.1 L783.3,927.1 L782.6,931.0 L781.9,935.0 L781.3,939.0 L780.8,943.0 L780.3,947.0 L780.0,951.0 L779.7,955.0 L779.5,959.1 L779.4,963.1 L779.5,967.1 L779.7,971.0 L780.0,975.0 L780.5,978.9 L781.2,982.7 L782.0,986.5 L783.1,990.3 L784.3,994.0 L785.8,997.7 L787.4,1001.2 L789.3,1004.7 L791.5,1008.1 L793.8,1011.5 L796.5,1014.7 L799.4,1017.8 L802.6,1020.8 L806.1,1023.8" fill="none" stroke="#000" stroke-width="4"/>
</g>
<path d="M1400.3,592.5 L1399.8,596.5 L1399.4,600.4 L1398.8,604.4 L1398.3,608.3 L1397.7,612.2 L1397.1,616.2 L1396.4,620.1 L1395.7,624.0 L1395.0,628.0 L1394.3,631.9 L1393.5,635.8 L1392.7,639.7 L1391.9,643.6 L1391.0,647.5 L1390.1,651.4 L1389.2,655.3 L1388.3,659.2 L1387.4,663.1 L1386.5,667.0 L1385.5,670.9 L1384.5,674.8 L1383.6,678.7 L1382.6,682.6 L1381.6,686.5 L1380.5,690.3 L1379.5,694.2 L1378.5,698.1 L1377.5,702.0 L1376.5,705.9 L1375.4,709.8 L1374.4,713.6 L1373.3,717.5 L1372.2,721.4 L1371.1,725.3 L1370.0,729.1 L1368.9,733.0 L1367.7,736.8 L1366.6,740.7 L1365.4,744.5 L1364.2,748.4 L1363.0,752.2 L1361.7,756.0 L1360.4,759.8 L1359.1,763.6 L1357.8,767.4 L1356.4,771.2 L1355.0,774.9 L1353.6,778.7 L1352.1,782.4 L1350.6,786.2 L1349.1,789.9 L1347.5,793.6 L1345.9,797.3 L1344.3,801.0 L1342.6,804.6 L1340.9,808.3 L1339.1,811.9 L1337.3,815.5 L1335.4,819.1 L1333.5,822.7 L1331.6,826.2 L1329.6,829.8 L1327.6,833.3 L1325.5,836.7 L1323.4,840.2 L1321.3,843.6 L1319.1,847.0 L1316.8,850.4 L1314.6,853.7 L1312.2,857.0 L1309.9,860.3 L1307.5,863.5 L1305.0,866.7 L1302.6,869.9 L1300.0,873.0 L1297.5,876.1 L1294.9,879.2 L1292.2,882.2 L1289.5,885.1 L1286.8,888.1 L1284.1,890.9 L1281.3,893.8 L1278.4,896.5 L1275.5,899.3 L1272.6,902.0 L1269.6,904.6 L1266.6,907.2 L1263.6,909.7 L1260.5,912.2 L1257.4,914.6 L1254.2,916.9 L1251.1,919.2 L1247.8,921.5 L1244.5,923.7 L1241.2,925.8 L1237.9,927.8 L1234.5,929.8 L1231.1,931.8 L1227.6,933.6 L1224.1,935.4 L1220.6,937.2 L1217.0,938.9 L1213.4,940.5 L1209.8,942.1 L1206.1,943.6 L1202.4,945.1 L1198.7,946.5 L1195.0,947.9 L1191.2,949.2 L1187.4,950.6 L1183.6,951.8 L1179.8,953.0 L1175.9,954.2 L1172.1,955.4 L1168.2,956.5 L1164.3,957.6 L1160.4,958.7 L1156.4,959.7 L1152.5,960.8 L1148.5,961.8 L1144.6,962.8 L1140.6,963.7 L1136.6,964.7 L1132.6,965.6 L1128.6,966.5 L1124.7,967.4 L1120.7,968.4 L1116.7,969.3 L1112.7,970.2 L1108.7,971.1 L1104.7,972.0 L1100.7,972.9 L1096.7,973.8 L1092.7,974.7 L1088.7,975.6 L1084.7,976.5 L1080.8,977.5 L1076.8,978.4 L1072.9,979.4 L1069.0,980.4 L1065.1,981.4 L1061.2,982.4 L1057.3,983.5 L1053.4,984.5 L1049.5,985.6 L1045.7,986.6 L1041.8,987.7 L1038.0,988.8 L1034.1,989.9 L1030.3,991.0 L1026.5,992.1 L1022.6,993.2 L1018.8,994.3 L1015.0,995.4 L1011.2,996.5 L1007.4,997.6 L1003.6,998.7 L999.8,999.8 L996.0,1000.9 L992.1,1002.0 L988.3,1003.1 L984.5,1004.2 L980.7,1005.2 L976.9,1006.3 L973.1,1007.3 L969.2,1008.3 L965.4,1009.3 L961.6,1010.3 L957.7,1011.3 L953.9,1012.3 L950.0,1013.2 L946.2,1014.1 L942.3,1015.0 L938.4,1015.9 L934.5,1016.7 L930.6,1017.6 L926.7,1018.4 L922.8,1019.1 L918.9,1019.9 L914.9,1020.6 L910.9,1021.2 L907.0,1021.9 L903.0,1022.5 L899.0,1023.1 L894.9,1023.6 L890.9,1024.1 L886.8,1024.6 L882.8,1025.0 L878.7,1025.4 L874.6,1025.7 L870.6,1026.0 L866.5,1026.2 L862.4,1026.4 L858.3,1026.6 L854.2,1026.6 L850.1,1026.7 L846.1,1026.6 L842.0,1026.6 L838.0,1026.4 L833.9,1026.2 L829.9,1025.9 L825.9,1025.6 L821.9,1025.2 L817.9,1024.7 L813.9,1024.1 L810.0,1023.5 L806.1,1022.8 L802.2,1022.0 L798.3,1021.2 L794.5,1020.3 L790.7,1019.3 L786.9,1018.2 L783.1,1017.1 L779.4,1016.0 L775.6,1014.7 L771.9,1013.4 L768.2,1012.1 L764.5,1010.7 L760.8,1009.3 L757.1,1007.8 L753.4,1006.3 L749.7,1004.7 L746.1,1003.1 L742.4,1001.5 L738.8,999.8 L735.1,998.1 L731.5,996.4 L727.8,994.6 L724.2,992.9 L720.5,991.1 L716.8,989.3 L713.2,987.5 L709.5,985.7 L705.8,983.9 L702.1,982.0 L698.4,980.2 L694.7,978.4 L690.9,976.5 L687.3,974.6 L683.6,972.7 L680.0,970.7 L676.4,968.7 L672.9,966.6 L669.5,964.4 L666.2,962.1 L663.0,959.7 L660.0,957.2 L657.1,954.6 L654.3,951.8 L651.7,948.9 L649.2,945.8 L647.0,942.6 L644.9,939.3 L642.9,935.9 L641.2,932.4 L639.7,928.8 L638.3,925.2 L637.1,921.5" fill="none" stroke="url(#gStroke)" stroke-width="3.5"/>

<defs>
 <clipPath id="clipLatch"><circle cx="878" cy="350.5" r="85"/></clipPath>
 <filter id="noise" x="0" y="0" width="100%" height="100%" color-interpolation-filters="sRGB">
   <feTurbulence type="fractalNoise" baseFrequency="0.7" numOctaves="2" seed="3" result="n"/>
   <feColorMatrix type="matrix" values="0 0 0 0 0.34  0 0 0 0 0.355  0 0 0 0 0.37  0 0 0 2.4 -1.0" in="n" result="m"/>
   <feComposite in="m" in2="SourceGraphic" operator="in"/>
 </filter>
 <linearGradient id="gLid" x1="0" y1="306" x2="0" y2="350" gradientUnits="userSpaceOnUse">
   <stop offset="0" stop-color="#26292c"/><stop offset="1" stop-color="#1a1c1f"/>
 </linearGradient>
 <linearGradient id="gCap" x1="0" y1="264" x2="0" y2="279" gradientUnits="userSpaceOnUse">
   <stop offset="0" stop-color="#c4c4c6"/><stop offset="1" stop-color="#98999b"/>
 </linearGradient>
</defs>
<g clip-path="url(#clipLatch)">
 <rect x="790" y="262" width="180" height="180" fill="#2a2d30"/>
 <rect x="790" y="262" width="180" height="17" fill="url(#gCap)"/>
 <rect x="790" y="278.5" width="180" height="3" fill="#505254"/>
 <rect x="790" y="281.5" width="180" height="25" fill="#2e3033"/>
 <path d="M790,290.2 L970,290.2 M790,298.3 L970,298.3" stroke="#111213" stroke-width="1.6"/>
 <path d="M790,292.5 L970,292.5" stroke="#45474a" stroke-width="1"/>
 <path d="M790,305.5 L970,304.8" stroke="#6c6e71" stroke-width="1.3"/>
 <path d="M790,306.3 L970,306 L970,341 C960,342 950,350 938,359 L790,345.5 Z" fill="url(#gLid)"/>
 <rect x="790" y="262" width="180" height="180" fill="#fff" filter="url(#noise)" clip-path="url(#clipTex)"/>
 <path d="M937,360 C945,352 952,344 968,340" fill="none" stroke="#5e6063" stroke-width="1.4"/>
 <path d="M823,347 C850,343.5 885,338 905,336 C910,332.5 915,331 920,330.8 C932,331 938,339 937,347 C936,357 930,363.5 919,365 C898,366.5 850,363.5 824,362 C818,361.5 815.5,357 816.5,353.5 C817.5,349.5 819.5,347.5 823,347 Z" fill="#36393c" stroke="#6a6d70" stroke-width="1.6"/>
</g>
<circle cx="878" cy="350.5" r="85.5" fill="none" stroke="#000" stroke-width="3.8"/>

<g>
 <path d="M1040.5,446 C1039,441.5 1045,439 1051,438.5 C1054,436 1058,437 1062,436.5 C1068,436 1072,437.5 1075,438.5 C1081,439.5 1085,442 1084,445.5 C1082,448.5 1044,449 1040.5,446 Z" fill="#dadadc"/>
 <path d="M1046,444 C1055,441 1070,441 1080,444" fill="none" stroke="#bdbdc0" stroke-width="1"/>
 <path d="M1052.5,413 L1060.5,413 L1060.5,438 L1055,438 L1055,431 L1053.5,429 L1054.5,426 L1052.5,423 Z" fill="#b9b6c0"/>
 <path d="M1061.2,413 L1067.5,413 L1067.5,421 L1066,423 L1067.8,426 L1066.2,429 L1067,432 L1066,437 L1061.2,437 Z" fill="#928f9b"/>
 
 <path d="M1043,388 C1043,381 1047,379.4 1053,379.4 L1067.5,379.4 C1073.5,379.4 1077.5,381 1077.5,388 L1077.5,405 C1077.5,412 1073,414.3 1066,414.3 L1054.5,414.3 C1047.5,414.3 1043,412 1043,405 Z" fill="#56516a"/>
 <rect x="1050" y="385.2" width="20.4" height="8.8" rx="3" fill="#fff"/>
 <rect x="1050.6" y="396" width="19" height="14" rx="1.5" fill="#372f49"/>
</g>
<path d="M876,148 L876,264 M1224,417.7 L1685,417.7 L1685,328 M568,481.8 L827,481.8 M384,932.7 L384,800 L656.5,800 M1372,721 L1606,721 L1606,825" fill="none" stroke="#000" stroke-width="4"/>
<path d="M1108,417.7 L1224,417.7 M827,481.8 L989.5,481.8 L989.5,581.5 M656.5,800 L714.5,800 M1159.5,721 L1372,721" fill="none" stroke="#fff" stroke-width="4"/>
<circle cx="1061" cy="415" r="44.5" fill="none" stroke="#000" stroke-width="4"/>
<g clip-path="url(#clipOuter)">
 <circle cx="1061" cy="415" r="44.5" fill="none" stroke="#fff" stroke-width="4"/>
</g>
<circle cx="989.5" cy="509.3" r="10.5" fill="none" stroke="#fff" stroke-width="4"/><circle cx="989.5" cy="598" r="15.5" fill="none" stroke="#fff" stroke-width="4"/><circle cx="730.8" cy="799.6" r="14.3" fill="none" stroke="#fff" stroke-width="4"/><circle cx="1143" cy="720.5" r="14.5" fill="none" stroke="#fff" stroke-width="4"/>
<g><rect x="771" y="1123" width="86" height="4" fill="#e0141e"/><rect x="771" y="1127" width="86" height="4" fill="#ffffff"/><rect x="771" y="1131" width="86" height="4" fill="#e0141e"/><rect x="771" y="1135" width="86" height="4" fill="#ffffff"/><rect x="771" y="1139" width="86" height="4" fill="#e0141e"/><rect x="771" y="1143" width="86" height="4" fill="#ffffff"/><rect x="771" y="1147" width="86" height="4" fill="#e0141e"/><rect x="771" y="1151" width="86" height="4" fill="#ffffff"/><rect x="771" y="1155" width="86" height="4" fill="#e0141e"/><rect x="771" y="1159" width="86" height="4" fill="#ffffff"/><rect x="771" y="1163" width="86" height="4" fill="#e0141e"/><rect x="771" y="1167" width="86" height="4" fill="#ffffff"/><rect x="771" y="1171" width="86" height="4" fill="#e0141e"/><rect x="771" y="1123" width="34" height="28" fill="#0b1a6e"/><circle cx="774.5" cy="1125.0" r="1.05" fill="#fff"/><circle cx="780.1" cy="1125.0" r="1.05" fill="#fff"/><circle cx="785.8" cy="1125.0" r="1.05" fill="#fff"/><circle cx="791.5" cy="1125.0" r="1.05" fill="#fff"/><circle cx="797.1" cy="1125.0" r="1.05" fill="#fff"/><circle cx="802.8" cy="1125.0" r="1.05" fill="#fff"/><circle cx="777.3" cy="1127.9" r="1.05" fill="#fff"/><circle cx="782.9" cy="1127.9" r="1.05" fill="#fff"/><circle cx="788.6" cy="1127.9" r="1.05" fill="#fff"/><circle cx="794.2" cy="1127.9" r="1.05" fill="#fff"/><circle cx="799.9" cy="1127.9" r="1.05" fill="#fff"/><circle cx="774.5" cy="1130.8" r="1.05" fill="#fff"/><circle cx="780.1" cy="1130.8" r="1.05" fill="#fff"/><circle cx="785.8" cy="1130.8" r="1.05" fill="#fff"/><circle cx="791.5" cy="1130.8" r="1.05" fill="#fff"/><circle cx="797.1" cy="1130.8" r="1.05" fill="#fff"/><circle cx="802.8" cy="1130.8" r="1.05" fill="#fff"/><circle cx="777.3" cy="1133.7" r="1.05" fill="#fff"/><circle cx="782.9" cy="1133.7" r="1.05" fill="#fff"/><circle cx="788.6" cy="1133.7" r="1.05" fill="#fff"/><circle cx="794.2" cy="1133.7" r="1.05" fill="#fff"/><circle cx="799.9" cy="1133.7" r="1.05" fill="#fff"/><circle cx="774.5" cy="1136.6" r="1.05" fill="#fff"/><circle cx="780.1" cy="1136.6" r="1.05" fill="#fff"/><circle cx="785.8" cy="1136.6" r="1.05" fill="#fff"/><circle cx="791.5" cy="1136.6" r="1.05" fill="#fff"/><circle cx="797.1" cy="1136.6" r="1.05" fill="#fff"/><circle cx="802.8" cy="1136.6" r="1.05" fill="#fff"/><circle cx="777.3" cy="1139.5" r="1.05" fill="#fff"/><circle cx="782.9" cy="1139.5" r="1.05" fill="#fff"/><circle cx="788.6" cy="1139.5" r="1.05" fill="#fff"/><circle cx="794.2" cy="1139.5" r="1.05" fill="#fff"/><circle cx="799.9" cy="1139.5" r="1.05" fill="#fff"/><circle cx="774.5" cy="1142.4" r="1.05" fill="#fff"/><circle cx="780.1" cy="1142.4" r="1.05" fill="#fff"/><circle cx="785.8" cy="1142.4" r="1.05" fill="#fff"/><circle cx="791.5" cy="1142.4" r="1.05" fill="#fff"/><circle cx="797.1" cy="1142.4" r="1.05" fill="#fff"/><circle cx="802.8" cy="1142.4" r="1.05" fill="#fff"/><circle cx="777.3" cy="1145.3" r="1.05" fill="#fff"/><circle cx="782.9" cy="1145.3" r="1.05" fill="#fff"/><circle cx="788.6" cy="1145.3" r="1.05" fill="#fff"/><circle cx="794.2" cy="1145.3" r="1.05" fill="#fff"/><circle cx="799.9" cy="1145.3" r="1.05" fill="#fff"/><circle cx="774.5" cy="1148.2" r="1.05" fill="#fff"/><circle cx="780.1" cy="1148.2" r="1.05" fill="#fff"/><circle cx="785.8" cy="1148.2" r="1.05" fill="#fff"/><circle cx="791.5" cy="1148.2" r="1.05" fill="#fff"/><circle cx="797.1" cy="1148.2" r="1.05" fill="#fff"/><circle cx="802.8" cy="1148.2" r="1.05" fill="#fff"/></g><text x="0" y="0" transform="translate(706.79,135) scale(0.6037,1)" font-family="Liberation Sans" font-weight="bold" font-size="50" letter-spacing="3.48" word-spacing="-4.53" fill="#000" stroke="#000" stroke-width="1.1">Quick Release Latch</text>
<text x="0" y="0" transform="translate(1566.80,312.2) scale(0.5993,1)" font-family="Liberation Sans" font-weight="bold" font-size="50" letter-spacing="3.63" word-spacing="-4.72" fill="#000" stroke="#000" stroke-width="1.1">Key Lockable</text>
<text x="0" y="0" transform="translate(380.92,469.9) scale(0.6262,1)" font-family="Liberation Sans" font-weight="bold" font-size="50" letter-spacing="3.46" word-spacing="-4.50" fill="#000" stroke="#000" stroke-width="1.1">Hard Shell</text>
<text x="0" y="0" transform="translate(381.30,514.8) scale(0.5677,1)" font-family="Liberation Sans" font-weight="bold" font-size="50" letter-spacing="4.51" word-spacing="-5.87" fill="#000" stroke="#000" stroke-width="1.1">Lid &amp; Body</text>
<text x="0" y="0" transform="translate(223.80,985) scale(0.6130,1)" font-family="Liberation Sans" font-weight="bold" font-size="50" letter-spacing="3.28" word-spacing="-4.26" fill="#000" stroke="#000" stroke-width="1.1">Weather Resistant</text>
<text x="0" y="0" transform="translate(1458.11,878) scale(0.6313,1)" font-family="Liberation Sans" font-weight="bold" font-size="50" letter-spacing="3.00" word-spacing="-3.90" fill="#000" stroke="#000" stroke-width="1.1">Internal Organizer</text>
<text x="0" y="0" transform="translate(905.36,1165) scale(0.6392,1)" font-family="Liberation Sans" font-weight="bold" font-size="50" letter-spacing="3.30" word-spacing="-4.29" fill="#000" stroke="#000" stroke-width="1.1">American Engineering</text>

</svg>
</body></html>
